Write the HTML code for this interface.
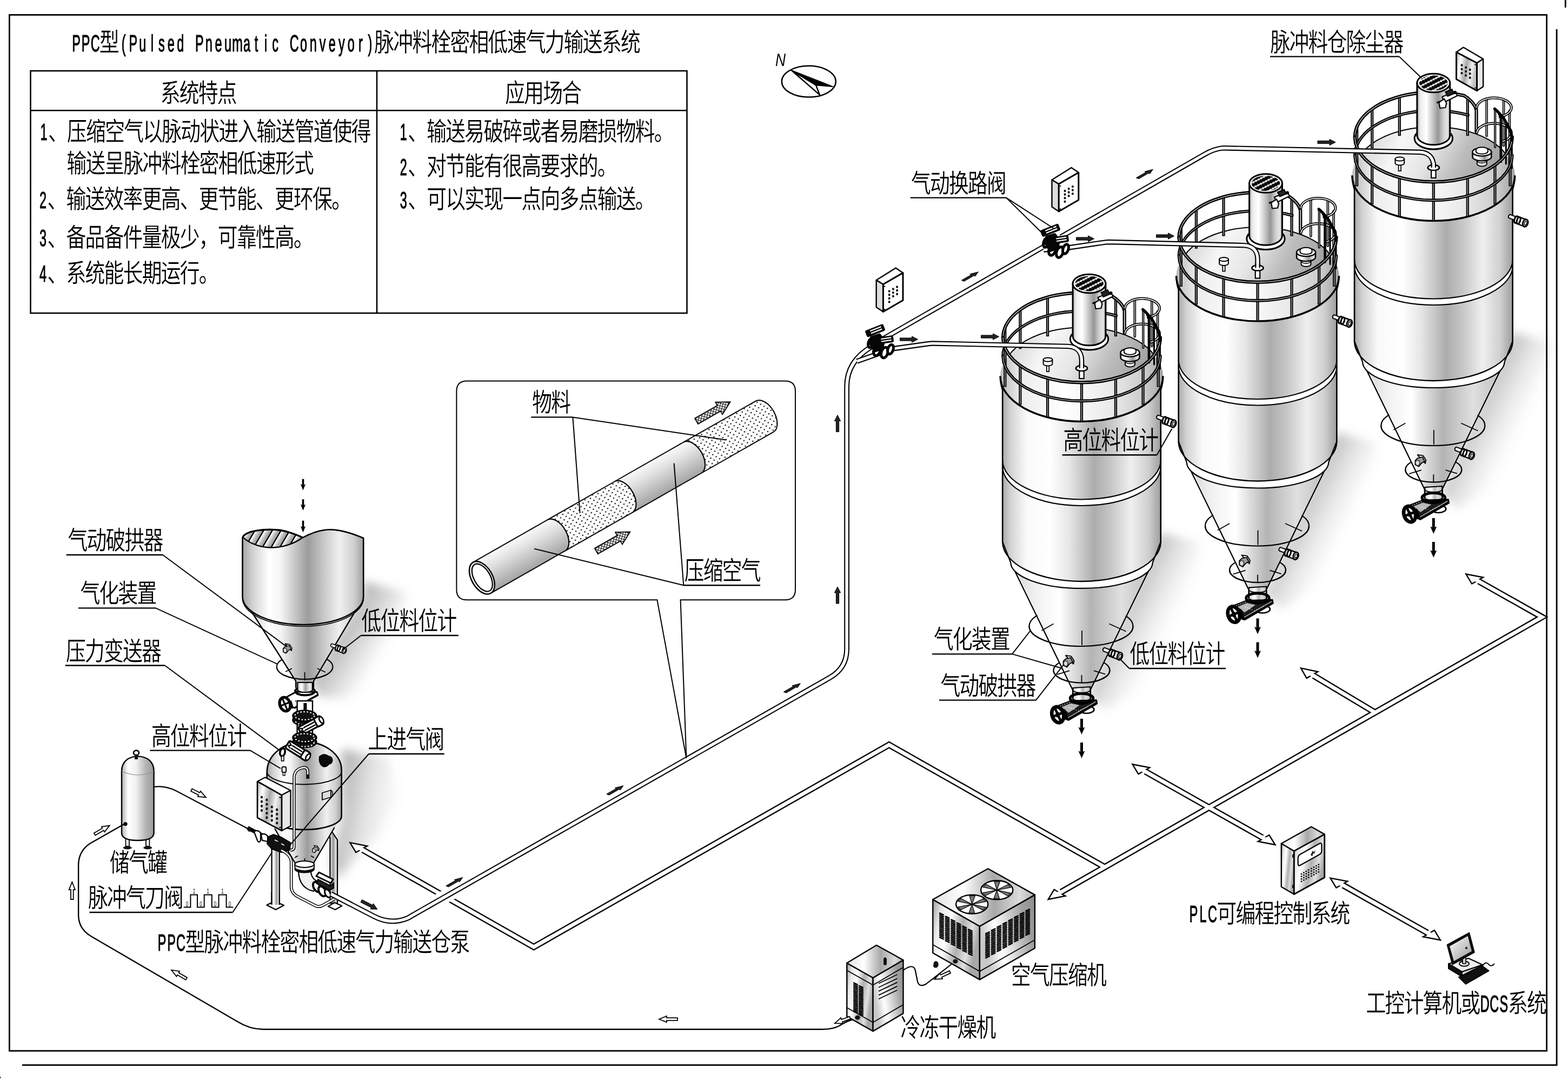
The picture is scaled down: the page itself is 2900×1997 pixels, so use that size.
<!DOCTYPE html><html lang="zh"><head><meta charset="utf-8"><title>PPC型脉冲料栓密相低速气力输送系统</title><style>html,body{margin:0;padding:0;background:#fff}svg{display:block;will-change:transform}text{font-family:'Liberation Sans','Noto Sans CJK SC',sans-serif;text-rendering:geometricPrecision}</style></head><body><svg width="2900" height="1997" viewBox="0 0 2900 1997"><defs><linearGradient id="gBody" x1="0" x2="1" y1="0" y2="0"><stop offset="0" stop-color="#aaaaaa"/><stop offset="0.05" stop-color="#d2d2d2"/><stop offset="0.15" stop-color="#fafafa"/><stop offset="0.3" stop-color="#ffffff"/><stop offset="0.42" stop-color="#e6e6e6"/><stop offset="0.58" stop-color="#acacac"/><stop offset="0.69" stop-color="#c8c8c8"/><stop offset="0.81" stop-color="#efefef"/><stop offset="0.92" stop-color="#d0d0d0"/><stop offset="1" stop-color="#9e9e9e"/></linearGradient>
<linearGradient id="gCone" x1="0" x2="1" y1="0" y2="0"><stop offset="0" stop-color="#c4c4c4"/><stop offset="0.2" stop-color="#f0f0f0"/><stop offset="0.36" stop-color="#ffffff"/><stop offset="0.56" stop-color="#b4b4b4"/><stop offset="0.75" stop-color="#e0e0e0"/><stop offset="1" stop-color="#b0b0b0"/></linearGradient>
<linearGradient id="gRoof" x1="0" x2="1" y1="0.35" y2="0.65"><stop offset="0" stop-color="#d4d4d4"/><stop offset="0.22" stop-color="#f6f6f6"/><stop offset="0.42" stop-color="#e6e6e6"/><stop offset="0.62" stop-color="#bdbdbd"/><stop offset="0.85" stop-color="#a2a2a2"/><stop offset="1" stop-color="#b4b4b4"/></linearGradient>
<linearGradient id="gRim" x1="0" x2="1" y1="0" y2="0"><stop offset="0" stop-color="#b8b8b8"/><stop offset="0.12" stop-color="#ececec"/><stop offset="0.4" stop-color="#ffffff"/><stop offset="0.7" stop-color="#e8e8e8"/><stop offset="0.9" stop-color="#c8c8c8"/><stop offset="1" stop-color="#a0a0a0"/></linearGradient>
<linearGradient id="gFil" x1="0" x2="1" y1="0" y2="0"><stop offset="0" stop-color="#b4b4b4"/><stop offset="0.1" stop-color="#ececec"/><stop offset="0.28" stop-color="#ffffff"/><stop offset="0.46" stop-color="#cccccc"/><stop offset="0.64" stop-color="#969696"/><stop offset="0.8" stop-color="#cfcfcf"/><stop offset="0.92" stop-color="#e6e6e6"/><stop offset="1" stop-color="#a8a8a8"/></linearGradient>
<filter id="blur8" x="-50%" y="-50%" width="200%" height="200%"><feGaussianBlur stdDeviation="9"/></filter>
<filter id="blur14" x="-50%" y="-50%" width="200%" height="200%"><feGaussianBlur stdDeviation="14"/></filter>
<pattern id="pFilt" width="5.4" height="9" patternUnits="userSpaceOnUse" patternTransform="rotate(-27) translate(1,2.6)"><rect width="5.4" height="9" fill="#fff"/><rect x="0" y="0.7" width="5.4" height="7.2" rx="2.5" fill="#050505"/></pattern>
<linearGradient id="sg1" gradientUnits="userSpaceOnUse" x1="2072.5" y1="1135" x2="2155.5" y2="1176"><stop offset="0" stop-color="#808080" stop-opacity="0.5"/><stop offset="0.5" stop-color="#808080" stop-opacity="0.2"/><stop offset="1" stop-color="#808080" stop-opacity="0"/></linearGradient>
<filter id="bl9" x="-50%" y="-50%" width="200%" height="200%"><feGaussianBlur stdDeviation="9"/></filter>
<clipPath id="cr1"><ellipse cx="2000.5" cy="624.4" rx="145.8" ry="83"/></clipPath>
<linearGradient id="sg2" gradientUnits="userSpaceOnUse" x1="2398" y1="949.5" x2="2481" y2="990.5"><stop offset="0" stop-color="#808080" stop-opacity="0.5"/><stop offset="0.5" stop-color="#808080" stop-opacity="0.2"/><stop offset="1" stop-color="#808080" stop-opacity="0"/></linearGradient>
<clipPath id="cr2"><ellipse cx="2326" cy="438.9" rx="145.8" ry="83"/></clipPath>
<linearGradient id="sg3" gradientUnits="userSpaceOnUse" x1="2723.3" y1="764" x2="2806.3" y2="805"><stop offset="0" stop-color="#808080" stop-opacity="0.5"/><stop offset="0.5" stop-color="#808080" stop-opacity="0.2"/><stop offset="1" stop-color="#808080" stop-opacity="0"/></linearGradient>
<clipPath id="cr3"><ellipse cx="2651.3" cy="253.4" rx="145.8" ry="83"/></clipPath>
<linearGradient id="gHop" x1="0" x2="1" y1="0" y2="0"><stop offset="0" stop-color="#a4a4a4"/><stop offset="0.08" stop-color="#d0d0d0"/><stop offset="0.22" stop-color="#ffffff"/><stop offset="0.32" stop-color="#f4f4f4"/><stop offset="0.54" stop-color="#9c9c9c"/><stop offset="0.66" stop-color="#c4c4c4"/><stop offset="0.8" stop-color="#f0f0f0"/><stop offset="0.92" stop-color="#d0d0d0"/><stop offset="1" stop-color="#a0a0a0"/></linearGradient>
<linearGradient id="gHatch" x1="0" y1="0" x2="12" y2="7" gradientUnits="userSpaceOnUse" spreadMethod="repeat"><stop offset="0" stop-color="#fff"/><stop offset="0.45" stop-color="#bbb"/><stop offset="0.8" stop-color="#999"/><stop offset="0.82" stop-color="#000"/><stop offset="0.95" stop-color="#000"/><stop offset="1" stop-color="#fff"/></linearGradient>
<linearGradient id="gBox" x1="0" x2="1" y1="0" y2="0.3"><stop offset="0" stop-color="#b0b0b0"/><stop offset="0.25" stop-color="#ffffff"/><stop offset="0.55" stop-color="#a8a8a8"/><stop offset="0.8" stop-color="#f0f0f0"/><stop offset="1" stop-color="#c0c0c0"/></linearGradient>
<linearGradient id="sg4" gradientUnits="userSpaceOnUse" x1="620" y1="1175" x2="700" y2="1222"><stop offset="0" stop-color="#808080" stop-opacity="0.6"/><stop offset="0.5" stop-color="#808080" stop-opacity="0.3"/><stop offset="1" stop-color="#808080" stop-opacity="0"/></linearGradient>
<linearGradient id="sg5" gradientUnits="userSpaceOnUse" x1="622" y1="1480" x2="740" y2="1500"><stop offset="0" stop-color="#808080" stop-opacity="0.6"/><stop offset="0.5" stop-color="#808080" stop-opacity="0.2"/><stop offset="1" stop-color="#808080" stop-opacity="0"/></linearGradient>
<linearGradient id="gTank" x1="0" x2="1" y1="0" y2="0"><stop offset="0" stop-color="#b0b0b0"/><stop offset="0.2" stop-color="#ffffff"/><stop offset="0.45" stop-color="#f0f0f0"/><stop offset="0.75" stop-color="#b4b4b4"/><stop offset="1" stop-color="#9a9a9a"/></linearGradient>
<linearGradient id="gFaceL" x1="0" x2="1" y1="0" y2="0.4"><stop offset="0" stop-color="#9a9a9a"/><stop offset="0.2" stop-color="#e8e8e8"/><stop offset="0.4" stop-color="#ffffff"/><stop offset="0.65" stop-color="#b0b0b0"/><stop offset="0.85" stop-color="#e0e0e0"/><stop offset="1" stop-color="#a8a8a8"/></linearGradient>
<linearGradient id="gFaceR" x1="0" x2="1" y1="0.4" y2="0"><stop offset="0" stop-color="#c8c8c8"/><stop offset="0.25" stop-color="#ffffff"/><stop offset="0.5" stop-color="#d0d0d0"/><stop offset="0.75" stop-color="#a0a0a0"/><stop offset="1" stop-color="#8c8c8c"/></linearGradient>
<linearGradient id="gFaceT" x1="0" x2="1" y1="0.5" y2="0.5"><stop offset="0" stop-color="#e0e0e0"/><stop offset="0.3" stop-color="#ffffff"/><stop offset="0.6" stop-color="#a8a8a8"/><stop offset="0.85" stop-color="#dcdcdc"/><stop offset="1" stop-color="#b0b0b0"/></linearGradient>
<linearGradient id="gScr" x1="0" x2="1" y1="0" y2="1"><stop offset="0" stop-color="#fff"/><stop offset="0.5" stop-color="#ccc"/><stop offset="1" stop-color="#999"/></linearGradient>
<pattern id="pDots" width="10.4" height="10.4" patternUnits="userSpaceOnUse" patternTransform="rotate(15)"><rect width="10.4" height="10.4" fill="#fff"/><circle cx="2.6" cy="2.6" r="1.25" fill="#000"/><circle cx="7.8" cy="7.8" r="1.25" fill="#000"/></pattern>
<linearGradient id="gAir" x1="0" x2="0" y1="0" y2="1"><stop offset="0" stop-color="#fafafa"/><stop offset="0.35" stop-color="#e0e0e0"/><stop offset="1" stop-color="#a4a4a4"/></linearGradient>
<pattern id="pX" width="6.4" height="6.4" patternUnits="userSpaceOnUse"><rect width="6.4" height="6.4" fill="#fff"/><path d="M0,0 L6.4,6.4 M6.4,0 L0,6.4" stroke="#000" stroke-width="1.1"/></pattern></defs><rect width="2900" height="1997" fill="#fff"/><polygon points="2146.5,985 2222.5,1005 2200.5,1100 2115.5,1265 2045.5,1312 2012.5,1285" fill="url(#sg1)" filter="url(#bl9)"/>
<polygon points="2472,799.5 2548,819.5 2526,914.5 2441,1079.5 2371,1126.5 2338,1099.5" fill="url(#sg2)" filter="url(#bl9)"/>
<polygon points="2797.3,614 2873.3,634 2851.3,729 2766.3,894 2696.3,941 2663.3,914" fill="url(#sg3)" filter="url(#bl9)"/>
<polygon points="672,1075 750,1095 740,1180 695,1250 640,1292 590,1288 575,1260 672,1100" fill="url(#sg4)" filter="url(#bl9)"/>
<polygon points="632,1385 720,1400 735,1480 700,1545 655,1590 628,1625 612,1600 632,1510" fill="url(#sg5)" filter="url(#bl9)"/><rect x="17.4" y="27.5" width="2843.2" height="1915.6" fill="none" stroke="#000" stroke-width="2.8"/>
<path d="M2879.1,54 L2879.1,1969.4 L41,1969.4" stroke="#000" stroke-width="2.8" fill="none" />
<line x1="2895.3" y1="0" x2="2895.3" y2="14" stroke="#000" stroke-width="2.8" stroke-linecap="butt"/>
<line x1="0" y1="1992.3" x2="1.2" y2="1992.3" stroke="#000" stroke-width="3" stroke-linecap="butt"/>
<text transform="translate(132.3,94.5) scale(0.5400,1)" font-size="43.4" font-weight="400" fill="#000" stroke="#000" stroke-width="1.1" text-anchor="middle" x="16.2 48.7 81.1">PPC</text><text transform="translate(184,94.8) scale(0.7650,1)" font-size="48" font-weight="350" letter-spacing="-2.183" fill="#000">型</text><text transform="translate(219.9,94.5) scale(0.5400,1)" font-size="43.4" font-weight="400" fill="#000" stroke="#000" stroke-width="1.1" text-anchor="middle" x="16.2 48.7 81.1 113.6 146 178.5 210.9 243.4 275.9 308.3 340.8 373.2 405.7 438.1 470.6 503 535.5 567.9 600.4 632.8 665.3 697.8 730.2 762.7 795.1 827.6 860">(Pulsed Pneumatic Conveyor)</text><text transform="translate(692.3,94.8) scale(0.7650,1)" font-size="48" font-weight="350" letter-spacing="-2.183" fill="#000">脉冲料栓密相低速气力输送系统</text>
<rect x="56.5" y="131" width="1214" height="448" fill="none" stroke="#000" stroke-width="2.6"/>
<line x1="697" y1="131" x2="697" y2="579" stroke="#000" stroke-width="2.6" stroke-linecap="butt"/>
<line x1="56.5" y1="204.3" x2="1270.5" y2="204.3" stroke="#000" stroke-width="2.6" stroke-linecap="butt"/>
<text transform="translate(296.7,189.3) scale(0.7650,1)" font-size="48" font-weight="350" letter-spacing="-2.183" fill="#000">系统特点</text>
<text transform="translate(934.2,189.3) scale(0.7650,1)" font-size="48" font-weight="350" letter-spacing="-2.183" fill="#000">应用场合</text>
<text transform="translate(72.3,259.3) scale(0.5400,1)" font-size="43.4" font-weight="400" fill="#000" stroke="#000" stroke-width="1.1" text-anchor="middle" x="16.2">1</text><text transform="translate(89,259.6) scale(0.7650,1)" font-size="48" font-weight="350" letter-spacing="-2.183" fill="#000">、压缩空气以脉动状进入输送管道使得</text>
<text transform="translate(123.4,319.3) scale(0.7650,1)" font-size="48" font-weight="350" letter-spacing="-2.183" fill="#000">输送呈脉冲料栓密相低速形式</text>
<text transform="translate(70.7,385) scale(0.5400,1)" font-size="43.4" font-weight="400" fill="#000" stroke="#000" stroke-width="1.1" text-anchor="middle" x="16.2">2</text><text transform="translate(87.4,385.3) scale(0.7650,1)" font-size="48" font-weight="350" letter-spacing="-2.183" fill="#000">、输送效率更高、更节能、更环保。</text>
<text transform="translate(70.7,455.4) scale(0.5400,1)" font-size="43.4" font-weight="400" fill="#000" stroke="#000" stroke-width="1.1" text-anchor="middle" x="16.2">3</text><text transform="translate(87.4,455.7) scale(0.7650,1)" font-size="48" font-weight="350" letter-spacing="-2.183" fill="#000">、备品备件量极少，可靠性高。</text>
<text transform="translate(70.7,521.4) scale(0.5400,1)" font-size="43.4" font-weight="400" fill="#000" stroke="#000" stroke-width="1.1" text-anchor="middle" x="16.2">4</text><text transform="translate(87.4,521.7) scale(0.7650,1)" font-size="48" font-weight="350" letter-spacing="-2.183" fill="#000">、系统能长期运行。</text>
<text transform="translate(737.5,259.3) scale(0.5400,1)" font-size="43.4" font-weight="400" fill="#000" stroke="#000" stroke-width="1.1" text-anchor="middle" x="16.2">1</text><text transform="translate(754.2,259.6) scale(0.7650,1)" font-size="48" font-weight="350" letter-spacing="-2.183" fill="#000">、输送易破碎或者易磨损物料。</text>
<text transform="translate(737.5,323.9) scale(0.5400,1)" font-size="43.4" font-weight="400" fill="#000" stroke="#000" stroke-width="1.1" text-anchor="middle" x="16.2">2</text><text transform="translate(754.2,324.2) scale(0.7650,1)" font-size="48" font-weight="350" letter-spacing="-2.183" fill="#000">、对节能有很高要求的。</text>
<text transform="translate(737.5,385) scale(0.5400,1)" font-size="43.4" font-weight="400" fill="#000" stroke="#000" stroke-width="1.1" text-anchor="middle" x="16.2">3</text><text transform="translate(754.2,385.3) scale(0.7650,1)" font-size="48" font-weight="350" letter-spacing="-2.183" fill="#000">、可以实现一点向多点输送。</text>
<ellipse cx="1495.8" cy="150.7" rx="50" ry="28.9" fill="none" stroke="#000" stroke-width="2.5" />
<polygon points="1463.8,130 1540.6,160.2 1509.1,157.6" fill="#000" stroke="#000" stroke-width="1.6" stroke-linejoin="round" />
<polygon points="1463.8,130 1509.1,157.6 1516,175.3" fill="#fff" stroke="#000" stroke-width="2.4" stroke-linejoin="round" />
<text x="1434" y="121.5" font-size="33" font-style="italic" transform="translate(1434,121.5) scale(0.8,1) translate(-1434,-121.5)">N</text>
<path d="M671.3,1571.7 L987.2,1751 L1644.3,1377.2 L2042.6,1603 M1962.6,1649.4 L2852,1140.9 L2735.2,1075 M2543,1317.3 L2429.6,1249.5 M2118.5,1426.8 L2334.4,1548.5 M2484.4,1637.1 L2639.9,1724.7" fill="none" stroke="#000" stroke-width="11.6" stroke-linejoin="miter" stroke-miterlimit="8"/>
<polygon points="673.3,1567.5 679.1,1564.2 647.4,1558.1 658.3,1576.2 664.1,1572.8" fill="#fff" stroke="#000" stroke-width="2.4" stroke-linejoin="miter"/>
<polygon points="1964.6,1653.5 1970.4,1656.8 1938.7,1663 1949.6,1644.8 1955.4,1648.2" fill="#fff" stroke="#000" stroke-width="2.4" stroke-linejoin="miter"/>
<polygon points="2737.2,1070.9 2743,1067.5 2711.3,1061.5 2722.2,1079.5 2728,1076.2" fill="#fff" stroke="#000" stroke-width="2.4" stroke-linejoin="miter"/>
<polygon points="2431.6,1245.3 2437.4,1242 2406,1235.4 2416.6,1254 2422.4,1250.6" fill="#fff" stroke="#000" stroke-width="2.4" stroke-linejoin="miter"/>
<polygon points="2120.4,1422.7 2126.2,1419.3 2094.5,1413.3 2105.5,1431.3 2111.3,1428" fill="#fff" stroke="#000" stroke-width="2.4" stroke-linejoin="miter"/>
<polygon points="2341.6,1547.3 2347.4,1544 2358.4,1562 2326.7,1556 2332.5,1552.6" fill="#fff" stroke="#000" stroke-width="2.4" stroke-linejoin="miter"/>
<polygon points="2486.3,1633 2492.1,1629.6 2460.4,1623.6 2471.4,1641.6 2477.2,1638.3" fill="#fff" stroke="#000" stroke-width="2.4" stroke-linejoin="miter"/>
<polygon points="2647.1,1723.5 2652.9,1720.2 2663.9,1738.2 2632.2,1732.2 2638,1728.8" fill="#fff" stroke="#000" stroke-width="2.4" stroke-linejoin="miter"/>
<path d="M671.3,1571.7 L987.2,1751 L1644.3,1377.2 L2042.6,1603 M1962.6,1649.4 L2852,1140.9 L2735.2,1075 M2543,1317.3 L2429.6,1249.5 M2118.5,1426.8 L2334.4,1548.5 M2484.4,1637.1 L2639.9,1724.7" fill="none" stroke="#fff" stroke-width="6.8" stroke-linejoin="miter" stroke-miterlimit="8"/>
<line x1="673.1" y1="1572.7" x2="665.2" y2="1568.2" stroke="#fff" stroke-width="6.8"/>
<line x1="1964.3" y1="1648.4" x2="1956.5" y2="1652.8" stroke="#fff" stroke-width="6.8"/>
<line x1="2737" y1="1076" x2="2729.2" y2="1071.6" stroke="#fff" stroke-width="6.8"/>
<line x1="2431.3" y1="1250.5" x2="2423.6" y2="1245.9" stroke="#fff" stroke-width="6.8"/>
<line x1="2120.2" y1="1427.8" x2="2112.4" y2="1423.4" stroke="#fff" stroke-width="6.8"/>
<line x1="2332.7" y1="1547.5" x2="2340.5" y2="1551.9" stroke="#fff" stroke-width="6.8"/>
<line x1="2486.1" y1="1638.1" x2="2478.3" y2="1633.7" stroke="#fff" stroke-width="6.8"/>
<line x1="2638.2" y1="1723.7" x2="2646" y2="1728.1" stroke="#fff" stroke-width="6.8"/>
<ellipse cx="1999.5" cy="1158" rx="96" ry="37" fill="none" stroke="#000" stroke-width="2.2" />
<ellipse cx="2000.5" cy="1239.6" rx="52" ry="23" fill="none" stroke="#000" stroke-width="2.2" />
<polygon points="1854.2,1002 1984,1276 1984,1292 2017,1292 2017,1275 2146.8,1002" fill="url(#gCone)" stroke="none"/>
<path d="M1984.5,1272 L1984.5,1293 A16,5 0 0 0 2016.5,1293 L2016.5,1270 Z" fill="url(#gCone)" stroke="#000" stroke-width="2"/>
<path d="M1984.5,1276 A16,5 0 0 0 2016.5,1276" fill="none" stroke="#000" stroke-width="1.8"/>
<path d="M1869.2,1040 L1984,1276 L1984,1293 M2131.8,1040 L2017,1275 L2017,1293" stroke="#000" stroke-width="2.2" fill="none" />
<path d="M2095.5,1158 A96,37 0 0 1 1903.5,1158" stroke="#000" stroke-width="2.2" fill="none" />
<path d="M2052.5,1239.6 A52,23 0 0 1 1948.5,1239.6" stroke="#000" stroke-width="2.2" fill="none" />
<line x1="1948.5" y1="1153.5" x2="1926.5" y2="1166" stroke="#000" stroke-width="1.8" stroke-linecap="butt"/>
<line x1="2001" y1="1166" x2="2001" y2="1193" stroke="#000" stroke-width="1.8" stroke-linecap="butt"/>
<line x1="2051.5" y1="1153.5" x2="2082.5" y2="1167.5" stroke="#000" stroke-width="1.8" stroke-linecap="butt"/>
<line x1="1978.1" y1="1240.2" x2="1955.2" y2="1247.1" stroke="#000" stroke-width="1.8" stroke-linecap="butt"/>
<line x1="2000.5" y1="1248.2" x2="2000.5" y2="1262.5" stroke="#000" stroke-width="1.8" stroke-linecap="butt"/>
<line x1="2022.9" y1="1240.2" x2="2044.2" y2="1246.6" stroke="#000" stroke-width="1.8" stroke-linecap="butt"/>
<path d="M1854.2,699.4 L1854.2,1002 A146.3,73 0 0 0 2146.8,1002 L2146.8,699.4 Z" fill="url(#gBody)" stroke="none"/>
<path d="M1854.2,1002 A146.3,73 0 0 0 2146.8,1002 L2131.8,1040 A131.3,48 0 0 1 1869.2,1040 Z" fill="#fff" stroke="none"/>
<path d="M1854.2,851 A146.3,72.5 0 0 0 2146.8,851 L2146.8,862.5 A146.3,72.5 0 0 1 1854.2,862.5 Z" fill="#fff" stroke="none"/>
<path d="M1854.2,705.4 L1854.2,1004 M2146.8,705.4 L2146.8,1004" stroke="#000" stroke-width="2.6" fill="none" />
<path d="M1854.2,851 A146.3,72.5 0 0 0 2146.8,851" stroke="#000" stroke-width="2.2" fill="none" />
<path d="M1854.2,862.5 A146.3,72.5 0 0 0 2146.8,862.5" stroke="#000" stroke-width="2.2" fill="none" />
<path d="M1854.2,1002 A146.3,73 0 0 0 2146.8,1002" stroke="#000" stroke-width="2.4" fill="none" />
<path d="M1869.2,1040 A131.3,48 0 0 0 2131.8,1040" stroke="#000" stroke-width="2.2" fill="none" />
<path d="M1854.2,1002 L1869.2,1040 M2146.8,1002 L2131.8,1040" stroke="#000" stroke-width="2.2" fill="none" />
<ellipse cx="2000.5" cy="695.4" rx="150.5" ry="84" fill="url(#gRim)" stroke="none"/>
<path d="M1850,695.4 A150.5,84 0 0 0 2151,695.4" stroke="#000" stroke-width="3.4" fill="none" />
<path d="M1850,695.4 Q1850,709.4 1854.2,721.4 M2151,695.4 Q2151,709.4 2146.8,721.4" stroke="#000" stroke-width="2.4" fill="none" />
<g clip-path="url(#cr1)"><ellipse cx="2000.5" cy="688.4" rx="145.3" ry="83" fill="url(#gRoof)" stroke="#000" stroke-width="2"/></g>
<ellipse cx="2325" cy="972.5" rx="96" ry="37" fill="none" stroke="#000" stroke-width="2.2" />
<ellipse cx="2326" cy="1054.1" rx="52" ry="23" fill="none" stroke="#000" stroke-width="2.2" />
<polygon points="2179.7,816.5 2309.5,1090.5 2309.5,1106.5 2342.5,1106.5 2342.5,1089.5 2472.3,816.5" fill="url(#gCone)" stroke="none"/>
<path d="M2310,1086.5 L2310,1107.5 A16,5 0 0 0 2342,1107.5 L2342,1084.5 Z" fill="url(#gCone)" stroke="#000" stroke-width="2"/>
<path d="M2310,1090.5 A16,5 0 0 0 2342,1090.5" fill="none" stroke="#000" stroke-width="1.8"/>
<path d="M2194.7,854.5 L2309.5,1090.5 L2309.5,1107.5 M2457.3,854.5 L2342.5,1089.5 L2342.5,1107.5" stroke="#000" stroke-width="2.2" fill="none" />
<path d="M2421,972.5 A96,37 0 0 1 2229,972.5" stroke="#000" stroke-width="2.2" fill="none" />
<path d="M2378,1054.1 A52,23 0 0 1 2274,1054.1" stroke="#000" stroke-width="2.2" fill="none" />
<line x1="2274" y1="968" x2="2252" y2="980.5" stroke="#000" stroke-width="1.8" stroke-linecap="butt"/>
<line x1="2326.5" y1="980.5" x2="2326.5" y2="1007.5" stroke="#000" stroke-width="1.8" stroke-linecap="butt"/>
<line x1="2377" y1="968" x2="2408" y2="982" stroke="#000" stroke-width="1.8" stroke-linecap="butt"/>
<line x1="2303.6" y1="1054.7" x2="2280.7" y2="1061.6" stroke="#000" stroke-width="1.8" stroke-linecap="butt"/>
<line x1="2326" y1="1062.7" x2="2326" y2="1077" stroke="#000" stroke-width="1.8" stroke-linecap="butt"/>
<line x1="2348.4" y1="1054.7" x2="2369.7" y2="1061.1" stroke="#000" stroke-width="1.8" stroke-linecap="butt"/>
<path d="M2179.7,513.9 L2179.7,816.5 A146.3,73 0 0 0 2472.3,816.5 L2472.3,513.9 Z" fill="url(#gBody)" stroke="none"/>
<path d="M2179.7,816.5 A146.3,73 0 0 0 2472.3,816.5 L2457.3,854.5 A131.3,48 0 0 1 2194.7,854.5 Z" fill="#fff" stroke="none"/>
<path d="M2179.7,665.5 A146.3,72.5 0 0 0 2472.3,665.5 L2472.3,677 A146.3,72.5 0 0 1 2179.7,677 Z" fill="#fff" stroke="none"/>
<path d="M2179.7,519.9 L2179.7,818.5 M2472.3,519.9 L2472.3,818.5" stroke="#000" stroke-width="2.6" fill="none" />
<path d="M2179.7,665.5 A146.3,72.5 0 0 0 2472.3,665.5" stroke="#000" stroke-width="2.2" fill="none" />
<path d="M2179.7,677 A146.3,72.5 0 0 0 2472.3,677" stroke="#000" stroke-width="2.2" fill="none" />
<path d="M2179.7,816.5 A146.3,73 0 0 0 2472.3,816.5" stroke="#000" stroke-width="2.4" fill="none" />
<path d="M2194.7,854.5 A131.3,48 0 0 0 2457.3,854.5" stroke="#000" stroke-width="2.2" fill="none" />
<path d="M2179.7,816.5 L2194.7,854.5 M2472.3,816.5 L2457.3,854.5" stroke="#000" stroke-width="2.2" fill="none" />
<ellipse cx="2326" cy="509.9" rx="150.5" ry="84" fill="url(#gRim)" stroke="none"/>
<path d="M2175.5,509.9 A150.5,84 0 0 0 2476.5,509.9" stroke="#000" stroke-width="3.4" fill="none" />
<path d="M2175.5,509.9 Q2175.5,523.9 2179.7,535.9 M2476.5,509.9 Q2476.5,523.9 2472.3,535.9" stroke="#000" stroke-width="2.4" fill="none" />
<g clip-path="url(#cr2)"><ellipse cx="2326" cy="502.9" rx="145.3" ry="83" fill="url(#gRoof)" stroke="#000" stroke-width="2"/></g>
<ellipse cx="2650.3" cy="787" rx="96" ry="37" fill="none" stroke="#000" stroke-width="2.2" />
<ellipse cx="2651.3" cy="868.6" rx="52" ry="23" fill="none" stroke="#000" stroke-width="2.2" />
<polygon points="2505,631 2634.8,905 2634.8,921 2667.8,921 2667.8,904 2797.6,631" fill="url(#gCone)" stroke="none"/>
<path d="M2635.3,901 L2635.3,922 A16,5 0 0 0 2667.3,922 L2667.3,899 Z" fill="url(#gCone)" stroke="#000" stroke-width="2"/>
<path d="M2635.3,905 A16,5 0 0 0 2667.3,905" fill="none" stroke="#000" stroke-width="1.8"/>
<path d="M2520,669 L2634.8,905 L2634.8,922 M2782.6,669 L2667.8,904 L2667.8,922" stroke="#000" stroke-width="2.2" fill="none" />
<path d="M2746.3,787 A96,37 0 0 1 2554.3,787" stroke="#000" stroke-width="2.2" fill="none" />
<path d="M2703.3,868.6 A52,23 0 0 1 2599.3,868.6" stroke="#000" stroke-width="2.2" fill="none" />
<line x1="2599.3" y1="782.5" x2="2577.3" y2="795" stroke="#000" stroke-width="1.8" stroke-linecap="butt"/>
<line x1="2651.8" y1="795" x2="2651.8" y2="822" stroke="#000" stroke-width="1.8" stroke-linecap="butt"/>
<line x1="2702.3" y1="782.5" x2="2733.3" y2="796.5" stroke="#000" stroke-width="1.8" stroke-linecap="butt"/>
<line x1="2628.9" y1="869.2" x2="2606" y2="876.1" stroke="#000" stroke-width="1.8" stroke-linecap="butt"/>
<line x1="2651.3" y1="877.2" x2="2651.3" y2="891.5" stroke="#000" stroke-width="1.8" stroke-linecap="butt"/>
<line x1="2673.7" y1="869.2" x2="2695" y2="875.6" stroke="#000" stroke-width="1.8" stroke-linecap="butt"/>
<path d="M2505,328.4 L2505,631 A146.3,73 0 0 0 2797.6,631 L2797.6,328.4 Z" fill="url(#gBody)" stroke="none"/>
<path d="M2505,631 A146.3,73 0 0 0 2797.6,631 L2782.6,669 A131.3,48 0 0 1 2520,669 Z" fill="#fff" stroke="none"/>
<path d="M2505,480 A146.3,72.5 0 0 0 2797.6,480 L2797.6,491.5 A146.3,72.5 0 0 1 2505,491.5 Z" fill="#fff" stroke="none"/>
<path d="M2505,334.4 L2505,633 M2797.6,334.4 L2797.6,633" stroke="#000" stroke-width="2.6" fill="none" />
<path d="M2505,480 A146.3,72.5 0 0 0 2797.6,480" stroke="#000" stroke-width="2.2" fill="none" />
<path d="M2505,491.5 A146.3,72.5 0 0 0 2797.6,491.5" stroke="#000" stroke-width="2.2" fill="none" />
<path d="M2505,631 A146.3,73 0 0 0 2797.6,631" stroke="#000" stroke-width="2.4" fill="none" />
<path d="M2520,669 A131.3,48 0 0 0 2782.6,669" stroke="#000" stroke-width="2.2" fill="none" />
<path d="M2505,631 L2520,669 M2797.6,631 L2782.6,669" stroke="#000" stroke-width="2.2" fill="none" />
<ellipse cx="2651.3" cy="324.4" rx="150.5" ry="84" fill="url(#gRim)" stroke="none"/>
<path d="M2500.8,324.4 A150.5,84 0 0 0 2801.8,324.4" stroke="#000" stroke-width="3.4" fill="none" />
<path d="M2500.8,324.4 Q2500.8,338.4 2505,350.4 M2801.8,324.4 Q2801.8,338.4 2797.6,350.4" stroke="#000" stroke-width="2.4" fill="none" />
<g clip-path="url(#cr3)"><ellipse cx="2651.3" cy="317.4" rx="145.3" ry="83" fill="url(#gRoof)" stroke="#000" stroke-width="2"/></g>
<path d="M803,1669.5 L843,1646.7" stroke="#fff" stroke-width="25" fill="none"/>
<path d="M612,1653 L692,1694.5 Q722,1710 752,1698.5 Q756,1697 760,1694.2 L1535,1252.8 Q1566.1,1235.1 1566.1,1200 L1566.1,715 Q1566.1,668 1612,641" stroke="#000" stroke-width="9.8" fill="none" stroke-linejoin="round"/>
<path d="M612,1653 L692,1694.5 Q722,1710 752,1698.5 Q756,1697 760,1694.2 L1535,1252.8 Q1566.1,1235.1 1566.1,1200 L1566.1,715 Q1566.1,668 1612,641" stroke="#fff" stroke-width="5.6" fill="none" stroke-linejoin="round"/>
<path d="M1627,630 L1948,446" stroke="#000" stroke-width="9.4" fill="none" stroke-linejoin="round"/>
<path d="M1627,630 L1948,446" stroke="#fff" stroke-width="5.2" fill="none" stroke-linejoin="round"/>
<line x1="2714.3" y1="178.6" x2="2714.3" y2="251.1" stroke="#000" stroke-width="5.2"/><line x1="2714.3" y1="179.6" x2="2714.3" y2="249.6" stroke="#b0b0b0" stroke-width="1.3"/>
<line x1="2651.3" y1="170.4" x2="2651.3" y2="242.9" stroke="#000" stroke-width="5.2"/><line x1="2651.3" y1="171.4" x2="2651.3" y2="241.4" stroke="#b0b0b0" stroke-width="1.3"/>
<line x1="2588.3" y1="178.6" x2="2588.3" y2="251.1" stroke="#000" stroke-width="5.2"/><line x1="2588.3" y1="179.6" x2="2588.3" y2="249.6" stroke="#b0b0b0" stroke-width="1.3"/>
<line x1="2537.7" y1="201.7" x2="2537.7" y2="274.2" stroke="#000" stroke-width="5.2"/><line x1="2537.7" y1="202.7" x2="2537.7" y2="272.7" stroke="#b0b0b0" stroke-width="1.3"/>
<line x1="2509.6" y1="234.9" x2="2509.6" y2="307.4" stroke="#000" stroke-width="5.2"/><line x1="2509.6" y1="235.9" x2="2509.6" y2="305.9" stroke="#b0b0b0" stroke-width="1.3"/>
<path d="M2505.8,287.4 L2506.3,280.4 L2507.9,273.5 L2510.4,266.6 L2514,259.9 L2518.6,253.4 L2524,247.2 L2530.4,241.2 L2537.7,235.5 L2545.8,230.3 L2554.6,225.4 L2564.1,221 L2574.2,217 L2584.9,213.6 L2596,210.6 L2607.5,208.2 L2619.4,206.4 L2631.5,205.2 L2643.7,204.5 L2656,204.4 L2668.2,205 L2680.3,206.1 L2692.2,207.7 L2703.8,210 L2715.1,212.8" fill="none" stroke="#000" stroke-width="5.6" stroke-linecap="round"/><path d="M2505.8,287.4 L2506.3,280.4 L2507.9,273.5 L2510.4,266.6 L2514,259.9 L2518.6,253.4 L2524,247.2 L2530.4,241.2 L2537.7,235.5 L2545.8,230.3 L2554.6,225.4 L2564.1,221 L2574.2,217 L2584.9,213.6 L2596,210.6 L2607.5,208.2 L2619.4,206.4 L2631.5,205.2 L2643.7,204.5 L2656,204.4 L2668.2,205 L2680.3,206.1 L2692.2,207.7 L2703.8,210 L2715.1,212.8" fill="none" stroke="#e8e8e8" stroke-width="1" stroke-linecap="round"/>
<path d="M2505.8,253.4 L2506.3,246.6 L2507.8,239.8 L2510.2,233.1 L2513.6,226.6 L2517.9,220.2 L2523.1,214.1 L2529.2,208.2 L2536.1,202.7 L2543.8,197.5 L2552.2,192.6 L2561.3,188.2 L2571,184.2 L2581.2,180.7 L2591.9,177.6 L2603,175.1 L2614.5,173.1 L2626.1,171.7 L2638,170.7 L2649.9,170.4 L2661.9,170.6 L2673.7,171.4 L2685.5,172.7 L2697,174.6 L2708.2,177 Q2727.3,189.4 2730.5,203.4 L2730.5,243.4" fill="none" stroke="#000" stroke-width="6.2" stroke-linecap="round"/><path d="M2505.8,253.4 L2506.3,246.6 L2507.8,239.8 L2510.2,233.1 L2513.6,226.6 L2517.9,220.2 L2523.1,214.1 L2529.2,208.2 L2536.1,202.7 L2543.8,197.5 L2552.2,192.6 L2561.3,188.2 L2571,184.2 L2581.2,180.7 L2591.9,177.6 L2603,175.1 L2614.5,173.1 L2626.1,171.7 L2638,170.7 L2649.9,170.4 L2661.9,170.6 L2673.7,171.4 L2685.5,172.7 L2697,174.6 L2708.2,177 Q2727.3,189.4 2730.5,203.4 L2730.5,243.4" fill="none" stroke="#e8e8e8" stroke-width="1.1" stroke-linecap="round"/>
<g transform="translate(2763.3,199)" fill="none" stroke="#000" stroke-linecap="round"><line x1="-13.7" y1="-14" x2="-13.7" y2="52" stroke-width="4.6"/><line x1="-13.7" y1="-14" x2="-13.7" y2="52" stroke="#ddd" stroke-width="1.4"/><line x1="17.8" y1="-12" x2="17.8" y2="70" stroke-width="4.6"/><line x1="17.8" y1="-12" x2="17.8" y2="70" stroke="#ddd" stroke-width="1.4"/><line x1="28.6" y1="6" x2="28.6" y2="110" stroke-width="4.6"/><line x1="28.6" y1="6" x2="28.6" y2="110" stroke="#ddd" stroke-width="1.4"/><line x1="-32.8" y1="4" x2="-32.8" y2="46" stroke-width="4.6"/><line x1="-32.8" y1="4" x2="-32.8" y2="46" stroke="#fff" stroke-width="1.4"/><path d="M-32,-0 L-31.5,-3.3 L-29.9,-6.4 L-27.4,-9.3 L-23.9,-12 L-19.7,-14.2 L-14.8,-16 L-9.4,-17.2 L-3.7,-17.9 L2.1,-18 L7.8,-17.5 L13.3,-16.4 L18.4,-14.7 L22.8,-12.6 L26.5,-10.1 L29.3,-7.2 L31.1,-4.2 L32,-0.9 L31.7,2.3 L30.4,5.5 L28.2,8.5 L25,11.3 L20.9,13.6 L16.2,15.5 L10.9,16.9" stroke-width="5"/><path d="M-32,-0 L-31.5,-3.3 L-29.9,-6.4 L-27.4,-9.3 L-23.9,-12 L-19.7,-14.2 L-14.8,-16 L-9.4,-17.2 L-3.7,-17.9 L2.1,-18 L7.8,-17.5 L13.3,-16.4 L18.4,-14.7 L22.8,-12.6 L26.5,-10.1 L29.3,-7.2 L31.1,-4.2 L32,-0.9 L31.7,2.3 L30.4,5.5 L28.2,8.5 L25,11.3 L20.9,13.6 L16.2,15.5 L10.9,16.9" stroke="#fff" stroke-width="1.6"/><path d="M-32,46.4 L-31.3,43.3 L-29.7,40.3 L-27.2,37.5 L-23.9,35 L-19.9,32.9 L-15.3,31.2 L-10.2,29.9 L-4.8,29.2 L0.7,29 L6.2,29.3 L11.5,30.2 L16.5,31.6 L21,33.4 L24.8,35.6 L27.9,38.2 L30.2,41 L31.6,44.1 L32,47.2 L31.5,50.3 L30,53.3 L27.6,56.1 L24.5,58.6 L20.5,60.8 L16,62.6" stroke-width="5"/><path d="M-32,46.4 L-31.3,43.3 L-29.7,40.3 L-27.2,37.5 L-23.9,35 L-19.9,32.9 L-15.3,31.2 L-10.2,29.9 L-4.8,29.2 L0.7,29 L6.2,29.3 L11.5,30.2 L16.5,31.6 L21,33.4 L24.8,35.6 L27.9,38.2 L30.2,41 L31.6,44.1 L32,47.2 L31.5,50.3 L30,53.3 L27.6,56.1 L24.5,58.6 L20.5,60.8 L16,62.6" stroke="#fff" stroke-width="1.6"/><line x1="1.8" y1="3" x2="1.8" y2="73" stroke-width="4.2"/><line x1="1.8" y1="3" x2="1.8" y2="73" stroke="#bbb" stroke-width="1.2"/><path d="M1,2 Q10,8 12.5,20 L12.5,100" stroke-width="4.6"/><path d="M22,30 L22,104 M33,50 L33,112" stroke-width="3"/></g>
<g transform="translate(2588.8,297)"><rect x="-2.2" y="6" width="4.4" height="13" fill="#fff" stroke="#000" stroke-width="1.8"/><path d="M-8.4,-3 L-8.4,5 A8.4,3.4 0 0 0 8.4,5 L8.4,-3 Z" fill="#f4f4f4" stroke="#000" stroke-width="2"/><ellipse cx="0" cy="-3" rx="8.4" ry="3.6" fill="#fff" stroke="#000" stroke-width="2"/></g>
<g transform="translate(2740.8,281)"><path d="M-9,8 L-9,22 A9,4.4 0 0 0 9,22 L9,8 Z" fill="#eee" stroke="#000" stroke-width="2"/><path d="M-9,16 A9,4.4 0 0 0 9,16" fill="none" stroke="#000" stroke-width="1.6"/><path d="M-17.5,0 L-17.5,9 A17.5,7.6 0 0 0 17.5,9 L17.5,0 Z" fill="url(#gFil)" stroke="#000" stroke-width="2.4"/><ellipse cx="0" cy="0" rx="17.5" ry="7.6" fill="#fff" stroke="#000" stroke-width="2.4"/><ellipse cx="0" cy="-1" rx="11" ry="4.8" fill="#fff" stroke="#000" stroke-width="2"/><path d="M-11,-1 L-11,-4 A11,4.8 0 0 1 11,-4 L11,-1" fill="#fff" stroke="#000" stroke-width="2"/></g>
<ellipse cx="2651.3" cy="256" rx="35.2" ry="20" fill="#fff" stroke="#000" stroke-width="3"/>
<path d="M2620.9,153.5 L2620.9,250.5 A30.4,17.3 0 0 0 2681.7,250.5 L2681.7,153.5 Z" fill="url(#gFil)" stroke="#000" stroke-width="3"/>
<ellipse cx="2651.3" cy="153.5" rx="30.4" ry="17.3" fill="#fff" stroke="#000" stroke-width="3"/>
<ellipse cx="2651.3" cy="153.5" rx="26.5" ry="14" fill="url(#pFilt)" stroke="none"/>
<g transform="translate(2675.3,185)"><path d="M-8,-6 L16,-16 L20,-8 L-4,4 Z" fill="#fff" stroke="#000" stroke-width="2.2" stroke-linejoin="round"/><path d="M-2,-15 L10,-20 L14,-12 L2,-7 Z" fill="#222" stroke="#000" stroke-width="2"/><path d="M-14,4 L-4,-2 L0,6 L-2,14 L-12,15 Z" fill="#fff" stroke="#000" stroke-width="2.2" stroke-linejoin="round"/><path d="M-18,5 L-12,3" stroke="#000" stroke-width="3"/><circle cx="16" cy="-14" r="3" fill="#000"/></g>
<line x1="2651.3" y1="336.4" x2="2651.3" y2="408.9" stroke="#000" stroke-width="5.2"/><line x1="2651.3" y1="337.4" x2="2651.3" y2="407.4" stroke="#b0b0b0" stroke-width="1.3"/>
<line x1="2714.3" y1="328.2" x2="2714.3" y2="400.7" stroke="#000" stroke-width="5.2"/><line x1="2714.3" y1="329.2" x2="2714.3" y2="399.2" stroke="#b0b0b0" stroke-width="1.3"/>
<line x1="2764.9" y1="305.1" x2="2764.9" y2="377.6" stroke="#000" stroke-width="5.2"/><line x1="2764.9" y1="306.1" x2="2764.9" y2="376.1" stroke="#b0b0b0" stroke-width="1.3"/>
<line x1="2793" y1="271.9" x2="2793" y2="344.4" stroke="#000" stroke-width="5.2"/><line x1="2793" y1="272.9" x2="2793" y2="342.9" stroke="#b0b0b0" stroke-width="1.3"/>
<line x1="2509.6" y1="271.9" x2="2509.6" y2="344.4" stroke="#000" stroke-width="5.2"/><line x1="2509.6" y1="272.9" x2="2509.6" y2="342.9" stroke="#b0b0b0" stroke-width="1.3"/>
<line x1="2537.7" y1="305.1" x2="2537.7" y2="377.6" stroke="#000" stroke-width="5.2"/><line x1="2537.7" y1="306.1" x2="2537.7" y2="376.1" stroke="#b0b0b0" stroke-width="1.3"/>
<line x1="2588.3" y1="328.2" x2="2588.3" y2="400.7" stroke="#000" stroke-width="5.2"/><line x1="2588.3" y1="329.2" x2="2588.3" y2="399.2" stroke="#b0b0b0" stroke-width="1.3"/>
<path d="M2505.8,287.4 L2507,298.2 L2510.8,308.9 L2516.9,319.2 L2525.3,328.9 L2535.9,337.9 L2548.4,346.1 L2562.7,353.2 L2578.6,359.3 L2595.6,364.1 L2613.6,367.6 L2632.3,369.7 L2651.3,370.4 L2670.3,369.7 L2689,367.6 L2707,364.1 L2724.1,359.3 L2739.9,353.2 L2754.2,346.1 L2766.7,337.9 L2777.3,328.9 L2785.7,319.2 L2791.8,308.9 L2795.6,298.2 L2796.8,287.4" fill="none" stroke="#000" stroke-width="5.6" stroke-linecap="round"/><path d="M2505.8,287.4 L2507,298.2 L2510.8,308.9 L2516.9,319.2 L2525.3,328.9 L2535.9,337.9 L2548.4,346.1 L2562.7,353.2 L2578.6,359.3 L2595.6,364.1 L2613.6,367.6 L2632.3,369.7 L2651.3,370.4 L2670.3,369.7 L2689,367.6 L2707,364.1 L2724.1,359.3 L2739.9,353.2 L2754.2,346.1 L2766.7,337.9 L2777.3,328.9 L2785.7,319.2 L2791.8,308.9 L2795.6,298.2 L2796.8,287.4" fill="none" stroke="#e8e8e8" stroke-width="1" stroke-linecap="round"/>
<path d="M2505.8,253.4 L2507,264.2 L2510.8,274.9 L2516.9,285.2 L2525.3,294.9 L2535.9,303.9 L2548.4,312.1 L2562.7,319.2 L2578.6,325.3 L2595.6,330.1 L2613.6,333.6 L2632.3,335.7 L2651.3,336.4 L2670.3,335.7 L2689,333.6 L2707,330.1 L2724.1,325.3 L2739.9,319.2 L2754.2,312.1 L2766.7,303.9 L2777.3,294.9 L2785.7,285.2 L2791.8,274.9 L2795.6,264.2 L2796.8,253.4" fill="none" stroke="#000" stroke-width="6.2" stroke-linecap="round"/><path d="M2505.8,253.4 L2507,264.2 L2510.8,274.9 L2516.9,285.2 L2525.3,294.9 L2535.9,303.9 L2548.4,312.1 L2562.7,319.2 L2578.6,325.3 L2595.6,330.1 L2613.6,333.6 L2632.3,335.7 L2651.3,336.4 L2670.3,335.7 L2689,333.6 L2707,330.1 L2724.1,325.3 L2739.9,319.2 L2754.2,312.1 L2766.7,303.9 L2777.3,294.9 L2785.7,285.2 L2791.8,274.9 L2795.6,264.2 L2796.8,253.4" fill="none" stroke="#e8e8e8" stroke-width="1.1" stroke-linecap="round"/>
<path d="M2764.3,201.4 Q2779.3,213.4 2787.3,229.4 Q2796.3,245.4 2796.8,259.4" fill="none" stroke="#000" stroke-width="5" stroke-linecap="round"/>
<g transform="translate(2791.6,400) scale(1)"><path d="M1,-3.4 L13,1 L11,7.4 L-1,3 Q-3,-1 1,-3.4 Z" fill="#fff" stroke="#000" stroke-width="2" stroke-linejoin="round"/><path d="M14,0 L31,6 L28,19 L11,12.4 Z" fill="#f4f4f4" stroke="#000" stroke-width="2.4" stroke-linejoin="round"/><ellipse cx="12.4" cy="6" rx="3" ry="6.6" transform="rotate(18 12.4 6)" fill="#fff" stroke="#000" stroke-width="3"/><ellipse cx="17" cy="7.6" rx="3" ry="6.6" transform="rotate(18 17 7.6)" fill="#fff" stroke="#000" stroke-width="3"/><ellipse cx="29.6" cy="12.4" rx="4.6" ry="7" transform="rotate(18 29.6 12.4)" fill="#fff" stroke="#000" stroke-width="2.8"/><ellipse cx="30" cy="12.6" rx="2" ry="3.8" transform="rotate(18 30 12.6)" fill="#fff" stroke="#000" stroke-width="1.4"/></g>
<g transform="translate(2692.3,830) scale(1)"><path d="M1,-3.4 L13,1 L11,7.4 L-1,3 Q-3,-1 1,-3.4 Z" fill="#fff" stroke="#000" stroke-width="2" stroke-linejoin="round"/><path d="M14,0 L31,6 L28,19 L11,12.4 Z" fill="#f4f4f4" stroke="#000" stroke-width="2.4" stroke-linejoin="round"/><ellipse cx="12.4" cy="6" rx="3" ry="6.6" transform="rotate(18 12.4 6)" fill="#fff" stroke="#000" stroke-width="3"/><ellipse cx="17" cy="7.6" rx="3" ry="6.6" transform="rotate(18 17 7.6)" fill="#fff" stroke="#000" stroke-width="3"/><ellipse cx="29.6" cy="12.4" rx="4.6" ry="7" transform="rotate(18 29.6 12.4)" fill="#fff" stroke="#000" stroke-width="2.8"/><ellipse cx="30" cy="12.6" rx="2" ry="3.8" transform="rotate(18 30 12.6)" fill="#fff" stroke="#000" stroke-width="1.4"/></g>
<g transform="translate(2627.3,851.6) scale(1.1)"><path d="M-5,-9.6 L4,-8.4 L9,-1 L8,4.6 L4,1 Z" fill="#fff" stroke="#000" stroke-width="1.8" stroke-linejoin="round"/><path d="M-5,-4 L3,-6 L7,1 L1,5 L-3,10 L-9,7 L-9,0 Z" fill="#9a9a9a" stroke="#000" stroke-width="1.6" stroke-linejoin="round"/><ellipse cx="-5" cy="4" rx="3.6" ry="4.4" fill="#ddd" stroke="#000" stroke-width="1.6" stroke-dasharray="1.5 1"/></g>
<g transform="translate(2651.3,924)"><ellipse cx="9" cy="17" rx="14" ry="7" fill="#fff" stroke="#000" stroke-width="2.6"/><path d="M-45.3,10.7 L-20.8,1.1 L27.2,-0.5 L28.4,5.5 L-25,36.4 L-31,34 Z" fill="#1c1c1c" stroke="#000" stroke-width="2.6" stroke-linejoin="round"/><path d="M-37,12.4 L-20,5.4 L-4,9 L-24,23 Z" fill="#b8b8b8" stroke="none"/><path d="M-40,10.4 L-20,2.6 M-23,13 L-10,18 M-6,20 L12,11" stroke="#fff" stroke-width="1.6" stroke-dasharray="1.4 3" fill="none"/><path d="M-25,36.4 L28.4,5.5" stroke="#000" stroke-width="3.6" fill="none"/><path d="M-27,33 L26,2.6" stroke="#fff" stroke-width="1" fill="none"/><ellipse cx="0" cy="-3.6" rx="21.3" ry="9" fill="none" stroke="#000" stroke-width="5"/><ellipse cx="0" cy="-5" rx="17" ry="6.4" fill="none" stroke="#000" stroke-width="1.6"/><ellipse cx="-44.2" cy="26.6" rx="10.6" ry="15" transform="rotate(-18 -44.2 26.6)" fill="#fff" stroke="#000" stroke-width="6.6"/><path d="M-50,13 L-38,40 M-55,31 L-33,22" stroke="#000" stroke-width="4.6"/><ellipse cx="-44.2" cy="26.6" rx="4" ry="5" fill="#000"/><path d="M-33,17 L-27,35" stroke="#000" stroke-width="5.4"/></g>
<path d="M2648.8,958 L2653.8,958 L2653.8,975 L2657.3,973.5 L2651.3,987 L2645.3,973.5 L2648.8,975 Z" fill="#000"/>
<path d="M2648.8,1002 L2653.8,1002 L2653.8,1019 L2657.3,1017.5 L2651.3,1031 L2645.3,1017.5 L2648.8,1019 Z" fill="#000"/>
<path d="M1962,438 L2228,285.3 Q2245,275.5 2262,273.7 L2625.3,281.3 C2642.2,281.6 2651.3,291.7 2651.3,307.3 L2651.3,310" stroke="#000" stroke-width="9.4" fill="none" stroke-linejoin="round"/>
<path d="M1962,438 L2228,285.3 Q2245,275.5 2262,273.7 L2625.3,281.3 C2642.2,281.6 2651.3,291.7 2651.3,307.3 L2651.3,310" stroke="#fff" stroke-width="5.2" fill="none" stroke-linejoin="round"/>
<ellipse cx="2651.3" cy="310" rx="10.6" ry="5.2" fill="#fff" stroke="#000" stroke-width="2.6"/>
<path d="M2651.3,301 L2651.3,309" stroke="#fff" stroke-width="5.2" fill="none"/>
<path d="M2647.7,301 L2647.7,310 M2655,301 L2655,310" stroke="#000" stroke-width="2.1" fill="none"/>
<rect x="2647.1" y="315" width="8.4" height="14" fill="#fff" stroke="#000" stroke-width="2.2"/>
<line x1="2389" y1="364.1" x2="2389" y2="436.6" stroke="#000" stroke-width="5.2"/><line x1="2389" y1="365.1" x2="2389" y2="435.1" stroke="#b0b0b0" stroke-width="1.3"/>
<line x1="2326" y1="355.9" x2="2326" y2="428.4" stroke="#000" stroke-width="5.2"/><line x1="2326" y1="356.9" x2="2326" y2="426.9" stroke="#b0b0b0" stroke-width="1.3"/>
<line x1="2263" y1="364.1" x2="2263" y2="436.6" stroke="#000" stroke-width="5.2"/><line x1="2263" y1="365.1" x2="2263" y2="435.1" stroke="#b0b0b0" stroke-width="1.3"/>
<line x1="2212.4" y1="387.2" x2="2212.4" y2="459.7" stroke="#000" stroke-width="5.2"/><line x1="2212.4" y1="388.2" x2="2212.4" y2="458.2" stroke="#b0b0b0" stroke-width="1.3"/>
<line x1="2184.3" y1="420.4" x2="2184.3" y2="492.9" stroke="#000" stroke-width="5.2"/><line x1="2184.3" y1="421.4" x2="2184.3" y2="491.4" stroke="#b0b0b0" stroke-width="1.3"/>
<path d="M2180.5,472.9 L2181,465.9 L2182.6,459 L2185.1,452.1 L2188.7,445.4 L2193.3,438.9 L2198.7,432.7 L2205.1,426.7 L2212.4,421 L2220.5,415.8 L2229.3,410.9 L2238.8,406.5 L2248.9,402.5 L2259.6,399.1 L2270.7,396.1 L2282.2,393.7 L2294.1,391.9 L2306.2,390.7 L2318.4,390 L2330.7,389.9 L2342.9,390.5 L2355,391.6 L2366.9,393.2 L2378.5,395.5 L2389.8,398.3" fill="none" stroke="#000" stroke-width="5.6" stroke-linecap="round"/><path d="M2180.5,472.9 L2181,465.9 L2182.6,459 L2185.1,452.1 L2188.7,445.4 L2193.3,438.9 L2198.7,432.7 L2205.1,426.7 L2212.4,421 L2220.5,415.8 L2229.3,410.9 L2238.8,406.5 L2248.9,402.5 L2259.6,399.1 L2270.7,396.1 L2282.2,393.7 L2294.1,391.9 L2306.2,390.7 L2318.4,390 L2330.7,389.9 L2342.9,390.5 L2355,391.6 L2366.9,393.2 L2378.5,395.5 L2389.8,398.3" fill="none" stroke="#e8e8e8" stroke-width="1" stroke-linecap="round"/>
<path d="M2180.5,438.9 L2181,432.1 L2182.5,425.3 L2184.9,418.6 L2188.3,412.1 L2192.6,405.7 L2197.8,399.6 L2203.9,393.7 L2210.8,388.2 L2218.5,383 L2226.9,378.1 L2236,373.7 L2245.7,369.7 L2255.9,366.2 L2266.6,363.1 L2277.7,360.6 L2289.2,358.6 L2300.8,357.2 L2312.7,356.2 L2324.6,355.9 L2336.6,356.1 L2348.4,356.9 L2360.2,358.2 L2371.7,360.1 L2382.9,362.5 Q2402,374.9 2405.2,388.9 L2405.2,428.9" fill="none" stroke="#000" stroke-width="6.2" stroke-linecap="round"/><path d="M2180.5,438.9 L2181,432.1 L2182.5,425.3 L2184.9,418.6 L2188.3,412.1 L2192.6,405.7 L2197.8,399.6 L2203.9,393.7 L2210.8,388.2 L2218.5,383 L2226.9,378.1 L2236,373.7 L2245.7,369.7 L2255.9,366.2 L2266.6,363.1 L2277.7,360.6 L2289.2,358.6 L2300.8,357.2 L2312.7,356.2 L2324.6,355.9 L2336.6,356.1 L2348.4,356.9 L2360.2,358.2 L2371.7,360.1 L2382.9,362.5 Q2402,374.9 2405.2,388.9 L2405.2,428.9" fill="none" stroke="#e8e8e8" stroke-width="1.1" stroke-linecap="round"/>
<g transform="translate(2438,384.5)" fill="none" stroke="#000" stroke-linecap="round"><line x1="-13.7" y1="-14" x2="-13.7" y2="52" stroke-width="4.6"/><line x1="-13.7" y1="-14" x2="-13.7" y2="52" stroke="#ddd" stroke-width="1.4"/><line x1="17.8" y1="-12" x2="17.8" y2="70" stroke-width="4.6"/><line x1="17.8" y1="-12" x2="17.8" y2="70" stroke="#ddd" stroke-width="1.4"/><line x1="28.6" y1="6" x2="28.6" y2="110" stroke-width="4.6"/><line x1="28.6" y1="6" x2="28.6" y2="110" stroke="#ddd" stroke-width="1.4"/><line x1="-32.8" y1="4" x2="-32.8" y2="46" stroke-width="4.6"/><line x1="-32.8" y1="4" x2="-32.8" y2="46" stroke="#fff" stroke-width="1.4"/><path d="M-32,-0 L-31.5,-3.3 L-29.9,-6.4 L-27.4,-9.3 L-23.9,-12 L-19.7,-14.2 L-14.8,-16 L-9.4,-17.2 L-3.7,-17.9 L2.1,-18 L7.8,-17.5 L13.3,-16.4 L18.4,-14.7 L22.8,-12.6 L26.5,-10.1 L29.3,-7.2 L31.1,-4.2 L32,-0.9 L31.7,2.3 L30.4,5.5 L28.2,8.5 L25,11.3 L20.9,13.6 L16.2,15.5 L10.9,16.9" stroke-width="5"/><path d="M-32,-0 L-31.5,-3.3 L-29.9,-6.4 L-27.4,-9.3 L-23.9,-12 L-19.7,-14.2 L-14.8,-16 L-9.4,-17.2 L-3.7,-17.9 L2.1,-18 L7.8,-17.5 L13.3,-16.4 L18.4,-14.7 L22.8,-12.6 L26.5,-10.1 L29.3,-7.2 L31.1,-4.2 L32,-0.9 L31.7,2.3 L30.4,5.5 L28.2,8.5 L25,11.3 L20.9,13.6 L16.2,15.5 L10.9,16.9" stroke="#fff" stroke-width="1.6"/><path d="M-32,46.4 L-31.3,43.3 L-29.7,40.3 L-27.2,37.5 L-23.9,35 L-19.9,32.9 L-15.3,31.2 L-10.2,29.9 L-4.8,29.2 L0.7,29 L6.2,29.3 L11.5,30.2 L16.5,31.6 L21,33.4 L24.8,35.6 L27.9,38.2 L30.2,41 L31.6,44.1 L32,47.2 L31.5,50.3 L30,53.3 L27.6,56.1 L24.5,58.6 L20.5,60.8 L16,62.6" stroke-width="5"/><path d="M-32,46.4 L-31.3,43.3 L-29.7,40.3 L-27.2,37.5 L-23.9,35 L-19.9,32.9 L-15.3,31.2 L-10.2,29.9 L-4.8,29.2 L0.7,29 L6.2,29.3 L11.5,30.2 L16.5,31.6 L21,33.4 L24.8,35.6 L27.9,38.2 L30.2,41 L31.6,44.1 L32,47.2 L31.5,50.3 L30,53.3 L27.6,56.1 L24.5,58.6 L20.5,60.8 L16,62.6" stroke="#fff" stroke-width="1.6"/><line x1="1.8" y1="3" x2="1.8" y2="73" stroke-width="4.2"/><line x1="1.8" y1="3" x2="1.8" y2="73" stroke="#bbb" stroke-width="1.2"/><path d="M1,2 Q10,8 12.5,20 L12.5,100" stroke-width="4.6"/><path d="M22,30 L22,104 M33,50 L33,112" stroke-width="3"/></g>
<g transform="translate(2263.5,482.5)"><rect x="-2.2" y="6" width="4.4" height="13" fill="#fff" stroke="#000" stroke-width="1.8"/><path d="M-8.4,-3 L-8.4,5 A8.4,3.4 0 0 0 8.4,5 L8.4,-3 Z" fill="#f4f4f4" stroke="#000" stroke-width="2"/><ellipse cx="0" cy="-3" rx="8.4" ry="3.6" fill="#fff" stroke="#000" stroke-width="2"/></g>
<g transform="translate(2415.5,466.5)"><path d="M-9,8 L-9,22 A9,4.4 0 0 0 9,22 L9,8 Z" fill="#eee" stroke="#000" stroke-width="2"/><path d="M-9,16 A9,4.4 0 0 0 9,16" fill="none" stroke="#000" stroke-width="1.6"/><path d="M-17.5,0 L-17.5,9 A17.5,7.6 0 0 0 17.5,9 L17.5,0 Z" fill="url(#gFil)" stroke="#000" stroke-width="2.4"/><ellipse cx="0" cy="0" rx="17.5" ry="7.6" fill="#fff" stroke="#000" stroke-width="2.4"/><ellipse cx="0" cy="-1" rx="11" ry="4.8" fill="#fff" stroke="#000" stroke-width="2"/><path d="M-11,-1 L-11,-4 A11,4.8 0 0 1 11,-4 L11,-1" fill="#fff" stroke="#000" stroke-width="2"/></g>
<ellipse cx="2341" cy="441.5" rx="35.2" ry="20" fill="#fff" stroke="#000" stroke-width="3"/>
<path d="M2310.6,339 L2310.6,436 A30.4,17.3 0 0 0 2371.4,436 L2371.4,339 Z" fill="url(#gFil)" stroke="#000" stroke-width="3"/>
<ellipse cx="2341" cy="339" rx="30.4" ry="17.3" fill="#fff" stroke="#000" stroke-width="3"/>
<ellipse cx="2341" cy="339" rx="26.5" ry="14" fill="url(#pFilt)" stroke="none"/>
<g transform="translate(2365,370.5)"><path d="M-8,-6 L16,-16 L20,-8 L-4,4 Z" fill="#fff" stroke="#000" stroke-width="2.2" stroke-linejoin="round"/><path d="M-2,-15 L10,-20 L14,-12 L2,-7 Z" fill="#222" stroke="#000" stroke-width="2"/><path d="M-14,4 L-4,-2 L0,6 L-2,14 L-12,15 Z" fill="#fff" stroke="#000" stroke-width="2.2" stroke-linejoin="round"/><path d="M-18,5 L-12,3" stroke="#000" stroke-width="3"/><circle cx="16" cy="-14" r="3" fill="#000"/></g>
<line x1="2326" y1="521.9" x2="2326" y2="594.4" stroke="#000" stroke-width="5.2"/><line x1="2326" y1="522.9" x2="2326" y2="592.9" stroke="#b0b0b0" stroke-width="1.3"/>
<line x1="2389" y1="513.7" x2="2389" y2="586.2" stroke="#000" stroke-width="5.2"/><line x1="2389" y1="514.7" x2="2389" y2="584.7" stroke="#b0b0b0" stroke-width="1.3"/>
<line x1="2439.6" y1="490.6" x2="2439.6" y2="563.1" stroke="#000" stroke-width="5.2"/><line x1="2439.6" y1="491.6" x2="2439.6" y2="561.6" stroke="#b0b0b0" stroke-width="1.3"/>
<line x1="2467.7" y1="457.4" x2="2467.7" y2="529.9" stroke="#000" stroke-width="5.2"/><line x1="2467.7" y1="458.4" x2="2467.7" y2="528.4" stroke="#b0b0b0" stroke-width="1.3"/>
<line x1="2184.3" y1="457.4" x2="2184.3" y2="529.9" stroke="#000" stroke-width="5.2"/><line x1="2184.3" y1="458.4" x2="2184.3" y2="528.4" stroke="#b0b0b0" stroke-width="1.3"/>
<line x1="2212.4" y1="490.6" x2="2212.4" y2="563.1" stroke="#000" stroke-width="5.2"/><line x1="2212.4" y1="491.6" x2="2212.4" y2="561.6" stroke="#b0b0b0" stroke-width="1.3"/>
<line x1="2263" y1="513.7" x2="2263" y2="586.2" stroke="#000" stroke-width="5.2"/><line x1="2263" y1="514.7" x2="2263" y2="584.7" stroke="#b0b0b0" stroke-width="1.3"/>
<path d="M2180.5,472.9 L2181.7,483.7 L2185.5,494.4 L2191.6,504.7 L2200,514.4 L2210.6,523.4 L2223.1,531.6 L2237.4,538.7 L2253.2,544.8 L2270.3,549.6 L2288.3,553.1 L2307,555.2 L2326,555.9 L2345,555.2 L2363.7,553.1 L2381.7,549.6 L2398.8,544.8 L2414.6,538.7 L2428.9,531.6 L2441.4,523.4 L2452,514.4 L2460.4,504.7 L2466.5,494.4 L2470.3,483.7 L2471.5,472.9" fill="none" stroke="#000" stroke-width="5.6" stroke-linecap="round"/><path d="M2180.5,472.9 L2181.7,483.7 L2185.5,494.4 L2191.6,504.7 L2200,514.4 L2210.6,523.4 L2223.1,531.6 L2237.4,538.7 L2253.2,544.8 L2270.3,549.6 L2288.3,553.1 L2307,555.2 L2326,555.9 L2345,555.2 L2363.7,553.1 L2381.7,549.6 L2398.8,544.8 L2414.6,538.7 L2428.9,531.6 L2441.4,523.4 L2452,514.4 L2460.4,504.7 L2466.5,494.4 L2470.3,483.7 L2471.5,472.9" fill="none" stroke="#e8e8e8" stroke-width="1" stroke-linecap="round"/>
<path d="M2180.5,438.9 L2181.7,449.7 L2185.5,460.4 L2191.6,470.7 L2200,480.4 L2210.6,489.4 L2223.1,497.6 L2237.4,504.7 L2253.2,510.8 L2270.3,515.6 L2288.3,519.1 L2307,521.2 L2326,521.9 L2345,521.2 L2363.7,519.1 L2381.7,515.6 L2398.8,510.8 L2414.6,504.7 L2428.9,497.6 L2441.4,489.4 L2452,480.4 L2460.4,470.7 L2466.5,460.4 L2470.3,449.7 L2471.5,438.9" fill="none" stroke="#000" stroke-width="6.2" stroke-linecap="round"/><path d="M2180.5,438.9 L2181.7,449.7 L2185.5,460.4 L2191.6,470.7 L2200,480.4 L2210.6,489.4 L2223.1,497.6 L2237.4,504.7 L2253.2,510.8 L2270.3,515.6 L2288.3,519.1 L2307,521.2 L2326,521.9 L2345,521.2 L2363.7,519.1 L2381.7,515.6 L2398.8,510.8 L2414.6,504.7 L2428.9,497.6 L2441.4,489.4 L2452,480.4 L2460.4,470.7 L2466.5,460.4 L2470.3,449.7 L2471.5,438.9" fill="none" stroke="#e8e8e8" stroke-width="1.1" stroke-linecap="round"/>
<path d="M2439,386.9 Q2454,398.9 2462,414.9 Q2471,430.9 2471.5,444.9" fill="none" stroke="#000" stroke-width="5" stroke-linecap="round"/>
<g transform="translate(2466.3,585.5) scale(1)"><path d="M1,-3.4 L13,1 L11,7.4 L-1,3 Q-3,-1 1,-3.4 Z" fill="#fff" stroke="#000" stroke-width="2" stroke-linejoin="round"/><path d="M14,0 L31,6 L28,19 L11,12.4 Z" fill="#f4f4f4" stroke="#000" stroke-width="2.4" stroke-linejoin="round"/><ellipse cx="12.4" cy="6" rx="3" ry="6.6" transform="rotate(18 12.4 6)" fill="#fff" stroke="#000" stroke-width="3"/><ellipse cx="17" cy="7.6" rx="3" ry="6.6" transform="rotate(18 17 7.6)" fill="#fff" stroke="#000" stroke-width="3"/><ellipse cx="29.6" cy="12.4" rx="4.6" ry="7" transform="rotate(18 29.6 12.4)" fill="#fff" stroke="#000" stroke-width="2.8"/><ellipse cx="30" cy="12.6" rx="2" ry="3.8" transform="rotate(18 30 12.6)" fill="#fff" stroke="#000" stroke-width="1.4"/></g>
<g transform="translate(2367,1015.5) scale(1)"><path d="M1,-3.4 L13,1 L11,7.4 L-1,3 Q-3,-1 1,-3.4 Z" fill="#fff" stroke="#000" stroke-width="2" stroke-linejoin="round"/><path d="M14,0 L31,6 L28,19 L11,12.4 Z" fill="#f4f4f4" stroke="#000" stroke-width="2.4" stroke-linejoin="round"/><ellipse cx="12.4" cy="6" rx="3" ry="6.6" transform="rotate(18 12.4 6)" fill="#fff" stroke="#000" stroke-width="3"/><ellipse cx="17" cy="7.6" rx="3" ry="6.6" transform="rotate(18 17 7.6)" fill="#fff" stroke="#000" stroke-width="3"/><ellipse cx="29.6" cy="12.4" rx="4.6" ry="7" transform="rotate(18 29.6 12.4)" fill="#fff" stroke="#000" stroke-width="2.8"/><ellipse cx="30" cy="12.6" rx="2" ry="3.8" transform="rotate(18 30 12.6)" fill="#fff" stroke="#000" stroke-width="1.4"/></g>
<g transform="translate(2302,1037.1) scale(1.1)"><path d="M-5,-9.6 L4,-8.4 L9,-1 L8,4.6 L4,1 Z" fill="#fff" stroke="#000" stroke-width="1.8" stroke-linejoin="round"/><path d="M-5,-4 L3,-6 L7,1 L1,5 L-3,10 L-9,7 L-9,0 Z" fill="#9a9a9a" stroke="#000" stroke-width="1.6" stroke-linejoin="round"/><ellipse cx="-5" cy="4" rx="3.6" ry="4.4" fill="#ddd" stroke="#000" stroke-width="1.6" stroke-dasharray="1.5 1"/></g>
<g transform="translate(2326,1109.5)"><ellipse cx="9" cy="17" rx="14" ry="7" fill="#fff" stroke="#000" stroke-width="2.6"/><path d="M-45.3,10.7 L-20.8,1.1 L27.2,-0.5 L28.4,5.5 L-25,36.4 L-31,34 Z" fill="#1c1c1c" stroke="#000" stroke-width="2.6" stroke-linejoin="round"/><path d="M-37,12.4 L-20,5.4 L-4,9 L-24,23 Z" fill="#b8b8b8" stroke="none"/><path d="M-40,10.4 L-20,2.6 M-23,13 L-10,18 M-6,20 L12,11" stroke="#fff" stroke-width="1.6" stroke-dasharray="1.4 3" fill="none"/><path d="M-25,36.4 L28.4,5.5" stroke="#000" stroke-width="3.6" fill="none"/><path d="M-27,33 L26,2.6" stroke="#fff" stroke-width="1" fill="none"/><ellipse cx="0" cy="-3.6" rx="21.3" ry="9" fill="none" stroke="#000" stroke-width="5"/><ellipse cx="0" cy="-5" rx="17" ry="6.4" fill="none" stroke="#000" stroke-width="1.6"/><ellipse cx="-44.2" cy="26.6" rx="10.6" ry="15" transform="rotate(-18 -44.2 26.6)" fill="#fff" stroke="#000" stroke-width="6.6"/><path d="M-50,13 L-38,40 M-55,31 L-33,22" stroke="#000" stroke-width="4.6"/><ellipse cx="-44.2" cy="26.6" rx="4" ry="5" fill="#000"/><path d="M-33,17 L-27,35" stroke="#000" stroke-width="5.4"/></g>
<path d="M2323.5,1143.5 L2328.5,1143.5 L2328.5,1160.5 L2332,1159 L2326,1172.5 L2320,1159 L2323.5,1160.5 Z" fill="#000"/>
<path d="M2323.5,1187.5 L2328.5,1187.5 L2328.5,1204.5 L2332,1203 L2326,1216.5 L2320,1203 L2323.5,1204.5 Z" fill="#000"/>
<path d="M1930,462 L1976,458 L2040,448.6 Q2046,447.6 2052,447.5 L2300,453.6 C2316.9,453.9 2326,464 2326,479.6 L2326,495.5" stroke="#000" stroke-width="9.4" fill="none" stroke-linejoin="round"/>
<path d="M1930,462 L1976,458 L2040,448.6 Q2046,447.6 2052,447.5 L2300,453.6 C2316.9,453.9 2326,464 2326,479.6 L2326,495.5" stroke="#fff" stroke-width="5.2" fill="none" stroke-linejoin="round"/>
<ellipse cx="2326" cy="495.5" rx="10.6" ry="5.2" fill="#fff" stroke="#000" stroke-width="2.6"/>
<path d="M2326,486.5 L2326,494.5" stroke="#fff" stroke-width="5.2" fill="none"/>
<path d="M2322.3,486.5 L2322.3,495.5 M2329.7,486.5 L2329.7,495.5" stroke="#000" stroke-width="2.1" fill="none"/>
<rect x="2321.8" y="500.5" width="8.4" height="14" fill="#fff" stroke="#000" stroke-width="2.2"/>
<line x1="2063.5" y1="549.6" x2="2063.5" y2="622.1" stroke="#000" stroke-width="5.2"/><line x1="2063.5" y1="550.6" x2="2063.5" y2="620.6" stroke="#b0b0b0" stroke-width="1.3"/>
<line x1="2000.5" y1="541.4" x2="2000.5" y2="613.9" stroke="#000" stroke-width="5.2"/><line x1="2000.5" y1="542.4" x2="2000.5" y2="612.4" stroke="#b0b0b0" stroke-width="1.3"/>
<line x1="1937.5" y1="549.6" x2="1937.5" y2="622.1" stroke="#000" stroke-width="5.2"/><line x1="1937.5" y1="550.6" x2="1937.5" y2="620.6" stroke="#b0b0b0" stroke-width="1.3"/>
<line x1="1886.9" y1="572.7" x2="1886.9" y2="645.2" stroke="#000" stroke-width="5.2"/><line x1="1886.9" y1="573.7" x2="1886.9" y2="643.7" stroke="#b0b0b0" stroke-width="1.3"/>
<line x1="1858.8" y1="605.9" x2="1858.8" y2="678.4" stroke="#000" stroke-width="5.2"/><line x1="1858.8" y1="606.9" x2="1858.8" y2="676.9" stroke="#b0b0b0" stroke-width="1.3"/>
<path d="M1855,658.4 L1855.5,651.4 L1857.1,644.5 L1859.6,637.6 L1863.2,630.9 L1867.8,624.4 L1873.2,618.2 L1879.6,612.2 L1886.9,606.5 L1895,601.3 L1903.8,596.4 L1913.3,592 L1923.4,588 L1934.1,584.6 L1945.2,581.6 L1956.7,579.2 L1968.6,577.4 L1980.7,576.2 L1992.9,575.5 L2005.2,575.4 L2017.4,576 L2029.5,577.1 L2041.4,578.7 L2053,581 L2064.3,583.8" fill="none" stroke="#000" stroke-width="5.6" stroke-linecap="round"/><path d="M1855,658.4 L1855.5,651.4 L1857.1,644.5 L1859.6,637.6 L1863.2,630.9 L1867.8,624.4 L1873.2,618.2 L1879.6,612.2 L1886.9,606.5 L1895,601.3 L1903.8,596.4 L1913.3,592 L1923.4,588 L1934.1,584.6 L1945.2,581.6 L1956.7,579.2 L1968.6,577.4 L1980.7,576.2 L1992.9,575.5 L2005.2,575.4 L2017.4,576 L2029.5,577.1 L2041.4,578.7 L2053,581 L2064.3,583.8" fill="none" stroke="#e8e8e8" stroke-width="1" stroke-linecap="round"/>
<path d="M1855,624.4 L1855.5,617.6 L1857,610.8 L1859.4,604.1 L1862.8,597.6 L1867.1,591.2 L1872.3,585.1 L1878.4,579.2 L1885.3,573.7 L1893,568.5 L1901.4,563.6 L1910.5,559.2 L1920.2,555.2 L1930.4,551.7 L1941.1,548.6 L1952.2,546.1 L1963.7,544.1 L1975.3,542.7 L1987.2,541.7 L1999.1,541.4 L2011.1,541.6 L2022.9,542.4 L2034.7,543.7 L2046.2,545.6 L2057.4,548 Q2076.5,560.4 2079.7,574.4 L2079.7,614.4" fill="none" stroke="#000" stroke-width="6.2" stroke-linecap="round"/><path d="M1855,624.4 L1855.5,617.6 L1857,610.8 L1859.4,604.1 L1862.8,597.6 L1867.1,591.2 L1872.3,585.1 L1878.4,579.2 L1885.3,573.7 L1893,568.5 L1901.4,563.6 L1910.5,559.2 L1920.2,555.2 L1930.4,551.7 L1941.1,548.6 L1952.2,546.1 L1963.7,544.1 L1975.3,542.7 L1987.2,541.7 L1999.1,541.4 L2011.1,541.6 L2022.9,542.4 L2034.7,543.7 L2046.2,545.6 L2057.4,548 Q2076.5,560.4 2079.7,574.4 L2079.7,614.4" fill="none" stroke="#e8e8e8" stroke-width="1.1" stroke-linecap="round"/>
<g transform="translate(2112.5,570)" fill="none" stroke="#000" stroke-linecap="round"><line x1="-13.7" y1="-14" x2="-13.7" y2="52" stroke-width="4.6"/><line x1="-13.7" y1="-14" x2="-13.7" y2="52" stroke="#ddd" stroke-width="1.4"/><line x1="17.8" y1="-12" x2="17.8" y2="70" stroke-width="4.6"/><line x1="17.8" y1="-12" x2="17.8" y2="70" stroke="#ddd" stroke-width="1.4"/><line x1="28.6" y1="6" x2="28.6" y2="110" stroke-width="4.6"/><line x1="28.6" y1="6" x2="28.6" y2="110" stroke="#ddd" stroke-width="1.4"/><line x1="-32.8" y1="4" x2="-32.8" y2="46" stroke-width="4.6"/><line x1="-32.8" y1="4" x2="-32.8" y2="46" stroke="#fff" stroke-width="1.4"/><path d="M-32,-0 L-31.5,-3.3 L-29.9,-6.4 L-27.4,-9.3 L-23.9,-12 L-19.7,-14.2 L-14.8,-16 L-9.4,-17.2 L-3.7,-17.9 L2.1,-18 L7.8,-17.5 L13.3,-16.4 L18.4,-14.7 L22.8,-12.6 L26.5,-10.1 L29.3,-7.2 L31.1,-4.2 L32,-0.9 L31.7,2.3 L30.4,5.5 L28.2,8.5 L25,11.3 L20.9,13.6 L16.2,15.5 L10.9,16.9" stroke-width="5"/><path d="M-32,-0 L-31.5,-3.3 L-29.9,-6.4 L-27.4,-9.3 L-23.9,-12 L-19.7,-14.2 L-14.8,-16 L-9.4,-17.2 L-3.7,-17.9 L2.1,-18 L7.8,-17.5 L13.3,-16.4 L18.4,-14.7 L22.8,-12.6 L26.5,-10.1 L29.3,-7.2 L31.1,-4.2 L32,-0.9 L31.7,2.3 L30.4,5.5 L28.2,8.5 L25,11.3 L20.9,13.6 L16.2,15.5 L10.9,16.9" stroke="#fff" stroke-width="1.6"/><path d="M-32,46.4 L-31.3,43.3 L-29.7,40.3 L-27.2,37.5 L-23.9,35 L-19.9,32.9 L-15.3,31.2 L-10.2,29.9 L-4.8,29.2 L0.7,29 L6.2,29.3 L11.5,30.2 L16.5,31.6 L21,33.4 L24.8,35.6 L27.9,38.2 L30.2,41 L31.6,44.1 L32,47.2 L31.5,50.3 L30,53.3 L27.6,56.1 L24.5,58.6 L20.5,60.8 L16,62.6" stroke-width="5"/><path d="M-32,46.4 L-31.3,43.3 L-29.7,40.3 L-27.2,37.5 L-23.9,35 L-19.9,32.9 L-15.3,31.2 L-10.2,29.9 L-4.8,29.2 L0.7,29 L6.2,29.3 L11.5,30.2 L16.5,31.6 L21,33.4 L24.8,35.6 L27.9,38.2 L30.2,41 L31.6,44.1 L32,47.2 L31.5,50.3 L30,53.3 L27.6,56.1 L24.5,58.6 L20.5,60.8 L16,62.6" stroke="#fff" stroke-width="1.6"/><line x1="1.8" y1="3" x2="1.8" y2="73" stroke-width="4.2"/><line x1="1.8" y1="3" x2="1.8" y2="73" stroke="#bbb" stroke-width="1.2"/><path d="M1,2 Q10,8 12.5,20 L12.5,100" stroke-width="4.6"/><path d="M22,30 L22,104 M33,50 L33,112" stroke-width="3"/></g>
<g transform="translate(1938,668)"><rect x="-2.2" y="6" width="4.4" height="13" fill="#fff" stroke="#000" stroke-width="1.8"/><path d="M-8.4,-3 L-8.4,5 A8.4,3.4 0 0 0 8.4,5 L8.4,-3 Z" fill="#f4f4f4" stroke="#000" stroke-width="2"/><ellipse cx="0" cy="-3" rx="8.4" ry="3.6" fill="#fff" stroke="#000" stroke-width="2"/></g>
<g transform="translate(2090,652)"><path d="M-9,8 L-9,22 A9,4.4 0 0 0 9,22 L9,8 Z" fill="#eee" stroke="#000" stroke-width="2"/><path d="M-9,16 A9,4.4 0 0 0 9,16" fill="none" stroke="#000" stroke-width="1.6"/><path d="M-17.5,0 L-17.5,9 A17.5,7.6 0 0 0 17.5,9 L17.5,0 Z" fill="url(#gFil)" stroke="#000" stroke-width="2.4"/><ellipse cx="0" cy="0" rx="17.5" ry="7.6" fill="#fff" stroke="#000" stroke-width="2.4"/><ellipse cx="0" cy="-1" rx="11" ry="4.8" fill="#fff" stroke="#000" stroke-width="2"/><path d="M-11,-1 L-11,-4 A11,4.8 0 0 1 11,-4 L11,-1" fill="#fff" stroke="#000" stroke-width="2"/></g>
<ellipse cx="2014.5" cy="627" rx="35.2" ry="20" fill="#fff" stroke="#000" stroke-width="3"/>
<path d="M1984.1,524.5 L1984.1,621.5 A30.4,17.3 0 0 0 2044.9,621.5 L2044.9,524.5 Z" fill="url(#gFil)" stroke="#000" stroke-width="3"/>
<ellipse cx="2014.5" cy="524.5" rx="30.4" ry="17.3" fill="#fff" stroke="#000" stroke-width="3"/>
<ellipse cx="2014.5" cy="524.5" rx="26.5" ry="14" fill="url(#pFilt)" stroke="none"/>
<g transform="translate(2038.5,556)"><path d="M-8,-6 L16,-16 L20,-8 L-4,4 Z" fill="#fff" stroke="#000" stroke-width="2.2" stroke-linejoin="round"/><path d="M-2,-15 L10,-20 L14,-12 L2,-7 Z" fill="#222" stroke="#000" stroke-width="2"/><path d="M-14,4 L-4,-2 L0,6 L-2,14 L-12,15 Z" fill="#fff" stroke="#000" stroke-width="2.2" stroke-linejoin="round"/><path d="M-18,5 L-12,3" stroke="#000" stroke-width="3"/><circle cx="16" cy="-14" r="3" fill="#000"/></g>
<line x1="2000.5" y1="707.4" x2="2000.5" y2="779.9" stroke="#000" stroke-width="5.2"/><line x1="2000.5" y1="708.4" x2="2000.5" y2="778.4" stroke="#b0b0b0" stroke-width="1.3"/>
<line x1="2063.5" y1="699.2" x2="2063.5" y2="771.7" stroke="#000" stroke-width="5.2"/><line x1="2063.5" y1="700.2" x2="2063.5" y2="770.2" stroke="#b0b0b0" stroke-width="1.3"/>
<line x1="2114.1" y1="676.1" x2="2114.1" y2="748.6" stroke="#000" stroke-width="5.2"/><line x1="2114.1" y1="677.1" x2="2114.1" y2="747.1" stroke="#b0b0b0" stroke-width="1.3"/>
<line x1="2142.2" y1="642.9" x2="2142.2" y2="715.4" stroke="#000" stroke-width="5.2"/><line x1="2142.2" y1="643.9" x2="2142.2" y2="713.9" stroke="#b0b0b0" stroke-width="1.3"/>
<line x1="1858.8" y1="642.9" x2="1858.8" y2="715.4" stroke="#000" stroke-width="5.2"/><line x1="1858.8" y1="643.9" x2="1858.8" y2="713.9" stroke="#b0b0b0" stroke-width="1.3"/>
<line x1="1886.9" y1="676.1" x2="1886.9" y2="748.6" stroke="#000" stroke-width="5.2"/><line x1="1886.9" y1="677.1" x2="1886.9" y2="747.1" stroke="#b0b0b0" stroke-width="1.3"/>
<line x1="1937.5" y1="699.2" x2="1937.5" y2="771.7" stroke="#000" stroke-width="5.2"/><line x1="1937.5" y1="700.2" x2="1937.5" y2="770.2" stroke="#b0b0b0" stroke-width="1.3"/>
<path d="M1855,658.4 L1856.2,669.2 L1860,679.9 L1866.1,690.2 L1874.5,699.9 L1885.1,708.9 L1897.6,717.1 L1911.9,724.2 L1927.8,730.3 L1944.8,735.1 L1962.8,738.6 L1981.5,740.7 L2000.5,741.4 L2019.5,740.7 L2038.2,738.6 L2056.2,735.1 L2073.2,730.3 L2089.1,724.2 L2103.4,717.1 L2115.9,708.9 L2126.5,699.9 L2134.9,690.2 L2141,679.9 L2144.8,669.2 L2146,658.4" fill="none" stroke="#000" stroke-width="5.6" stroke-linecap="round"/><path d="M1855,658.4 L1856.2,669.2 L1860,679.9 L1866.1,690.2 L1874.5,699.9 L1885.1,708.9 L1897.6,717.1 L1911.9,724.2 L1927.8,730.3 L1944.8,735.1 L1962.8,738.6 L1981.5,740.7 L2000.5,741.4 L2019.5,740.7 L2038.2,738.6 L2056.2,735.1 L2073.2,730.3 L2089.1,724.2 L2103.4,717.1 L2115.9,708.9 L2126.5,699.9 L2134.9,690.2 L2141,679.9 L2144.8,669.2 L2146,658.4" fill="none" stroke="#e8e8e8" stroke-width="1" stroke-linecap="round"/>
<path d="M1855,624.4 L1856.2,635.2 L1860,645.9 L1866.1,656.2 L1874.5,665.9 L1885.1,674.9 L1897.6,683.1 L1911.9,690.2 L1927.8,696.3 L1944.8,701.1 L1962.8,704.6 L1981.5,706.7 L2000.5,707.4 L2019.5,706.7 L2038.2,704.6 L2056.2,701.1 L2073.2,696.3 L2089.1,690.2 L2103.4,683.1 L2115.9,674.9 L2126.5,665.9 L2134.9,656.2 L2141,645.9 L2144.8,635.2 L2146,624.4" fill="none" stroke="#000" stroke-width="6.2" stroke-linecap="round"/><path d="M1855,624.4 L1856.2,635.2 L1860,645.9 L1866.1,656.2 L1874.5,665.9 L1885.1,674.9 L1897.6,683.1 L1911.9,690.2 L1927.8,696.3 L1944.8,701.1 L1962.8,704.6 L1981.5,706.7 L2000.5,707.4 L2019.5,706.7 L2038.2,704.6 L2056.2,701.1 L2073.2,696.3 L2089.1,690.2 L2103.4,683.1 L2115.9,674.9 L2126.5,665.9 L2134.9,656.2 L2141,645.9 L2144.8,635.2 L2146,624.4" fill="none" stroke="#e8e8e8" stroke-width="1.1" stroke-linecap="round"/>
<path d="M2113.5,572.4 Q2128.5,584.4 2136.5,600.4 Q2145.5,616.4 2146,630.4" fill="none" stroke="#000" stroke-width="5" stroke-linecap="round"/>
<g transform="translate(2140.8,771) scale(1)"><path d="M1,-3.4 L13,1 L11,7.4 L-1,3 Q-3,-1 1,-3.4 Z" fill="#fff" stroke="#000" stroke-width="2" stroke-linejoin="round"/><path d="M14,0 L31,6 L28,19 L11,12.4 Z" fill="#f4f4f4" stroke="#000" stroke-width="2.4" stroke-linejoin="round"/><ellipse cx="12.4" cy="6" rx="3" ry="6.6" transform="rotate(18 12.4 6)" fill="#fff" stroke="#000" stroke-width="3"/><ellipse cx="17" cy="7.6" rx="3" ry="6.6" transform="rotate(18 17 7.6)" fill="#fff" stroke="#000" stroke-width="3"/><ellipse cx="29.6" cy="12.4" rx="4.6" ry="7" transform="rotate(18 29.6 12.4)" fill="#fff" stroke="#000" stroke-width="2.8"/><ellipse cx="30" cy="12.6" rx="2" ry="3.8" transform="rotate(18 30 12.6)" fill="#fff" stroke="#000" stroke-width="1.4"/></g>
<g transform="translate(2041.5,1201) scale(1)"><path d="M1,-3.4 L13,1 L11,7.4 L-1,3 Q-3,-1 1,-3.4 Z" fill="#fff" stroke="#000" stroke-width="2" stroke-linejoin="round"/><path d="M14,0 L31,6 L28,19 L11,12.4 Z" fill="#f4f4f4" stroke="#000" stroke-width="2.4" stroke-linejoin="round"/><ellipse cx="12.4" cy="6" rx="3" ry="6.6" transform="rotate(18 12.4 6)" fill="#fff" stroke="#000" stroke-width="3"/><ellipse cx="17" cy="7.6" rx="3" ry="6.6" transform="rotate(18 17 7.6)" fill="#fff" stroke="#000" stroke-width="3"/><ellipse cx="29.6" cy="12.4" rx="4.6" ry="7" transform="rotate(18 29.6 12.4)" fill="#fff" stroke="#000" stroke-width="2.8"/><ellipse cx="30" cy="12.6" rx="2" ry="3.8" transform="rotate(18 30 12.6)" fill="#fff" stroke="#000" stroke-width="1.4"/></g>
<g transform="translate(1976.5,1222.6) scale(1.1)"><path d="M-5,-9.6 L4,-8.4 L9,-1 L8,4.6 L4,1 Z" fill="#fff" stroke="#000" stroke-width="1.8" stroke-linejoin="round"/><path d="M-5,-4 L3,-6 L7,1 L1,5 L-3,10 L-9,7 L-9,0 Z" fill="#9a9a9a" stroke="#000" stroke-width="1.6" stroke-linejoin="round"/><ellipse cx="-5" cy="4" rx="3.6" ry="4.4" fill="#ddd" stroke="#000" stroke-width="1.6" stroke-dasharray="1.5 1"/></g>
<g transform="translate(2000.5,1295)"><ellipse cx="9" cy="17" rx="14" ry="7" fill="#fff" stroke="#000" stroke-width="2.6"/><path d="M-45.3,10.7 L-20.8,1.1 L27.2,-0.5 L28.4,5.5 L-25,36.4 L-31,34 Z" fill="#1c1c1c" stroke="#000" stroke-width="2.6" stroke-linejoin="round"/><path d="M-37,12.4 L-20,5.4 L-4,9 L-24,23 Z" fill="#b8b8b8" stroke="none"/><path d="M-40,10.4 L-20,2.6 M-23,13 L-10,18 M-6,20 L12,11" stroke="#fff" stroke-width="1.6" stroke-dasharray="1.4 3" fill="none"/><path d="M-25,36.4 L28.4,5.5" stroke="#000" stroke-width="3.6" fill="none"/><path d="M-27,33 L26,2.6" stroke="#fff" stroke-width="1" fill="none"/><ellipse cx="0" cy="-3.6" rx="21.3" ry="9" fill="none" stroke="#000" stroke-width="5"/><ellipse cx="0" cy="-5" rx="17" ry="6.4" fill="none" stroke="#000" stroke-width="1.6"/><ellipse cx="-44.2" cy="26.6" rx="10.6" ry="15" transform="rotate(-18 -44.2 26.6)" fill="#fff" stroke="#000" stroke-width="6.6"/><path d="M-50,13 L-38,40 M-55,31 L-33,22" stroke="#000" stroke-width="4.6"/><ellipse cx="-44.2" cy="26.6" rx="4" ry="5" fill="#000"/><path d="M-33,17 L-27,35" stroke="#000" stroke-width="5.4"/></g>
<path d="M1998,1329 L2003,1329 L2003,1346 L2006.5,1344.5 L2000.5,1358 L1994.5,1344.5 L1998,1346 Z" fill="#000"/>
<path d="M1998,1373 L2003,1373 L2003,1390 L2006.5,1388.5 L2000.5,1402 L1994.5,1388.5 L1998,1390 Z" fill="#000"/>
<path d="M1585,668 L1650,645 L1714,636 Q1720,635 1726,635 L1974.5,640.4 C1991.4,640.7 2000.5,650.8 2000.5,666.4 L2000.5,681" stroke="#000" stroke-width="9.4" fill="none" stroke-linejoin="round"/>
<path d="M1585,668 L1650,645 L1714,636 Q1720,635 1726,635 L1974.5,640.4 C1991.4,640.7 2000.5,650.8 2000.5,666.4 L2000.5,681" stroke="#fff" stroke-width="5.2" fill="none" stroke-linejoin="round"/>
<ellipse cx="2000.5" cy="681" rx="10.6" ry="5.2" fill="#fff" stroke="#000" stroke-width="2.6"/>
<path d="M2000.5,672 L2000.5,680" stroke="#fff" stroke-width="5.2" fill="none"/>
<path d="M1996.8,672 L1996.8,681 M2004.2,672 L2004.2,681" stroke="#000" stroke-width="2.1" fill="none"/>
<rect x="1996.3" y="686" width="8.4" height="14" fill="#fff" stroke="#000" stroke-width="2.2"/>
<ellipse cx="563.6" cy="1233" rx="51.8" ry="23" fill="none" stroke="#000" stroke-width="2" />
<polygon points="448.5,1103.5 547.2,1259.5 547.2,1272 580,1272 580,1259.5 672.2,1103.5" fill="url(#gHop)"/>
<path d="M461.7,1125.4 L547.2,1259.5 L547.2,1272 M661.2,1123.2 L580,1259.5 L580,1272" stroke="#000" stroke-width="2.4" fill="none" />
<path d="M615.4,1233 A51.8,23 0 0 1 511.8,1233" stroke="#000" stroke-width="2" fill="none" />
<line x1="528" y1="1242" x2="540" y2="1236" stroke="#000" stroke-width="1.8" stroke-linecap="butt"/>
<line x1="563.6" y1="1243" x2="563.6" y2="1258" stroke="#000" stroke-width="1.8" stroke-linecap="butt"/>
<line x1="587" y1="1236" x2="602" y2="1243" stroke="#000" stroke-width="1.8" stroke-linecap="butt"/>
<path d="M448.5,993.9 C450,988 462,982.5 474.8,980.7 C487,978.7 502,978.4 514.3,979.6 C530,981 545,987 560.4,993.9 C575,986 588,981.5 600,980 C615,977.6 640,981 672.2,995 L672.2,1103.5 A111.8,51.5 0 0 1 448.5,1103.5 Z" fill="url(#gHop)" stroke="#000" stroke-width="2.6" stroke-linejoin="round"/>
<path d="M672.2,1106.5 A111.8,51.5 0 0 1 448.5,1106.5" stroke="#000" stroke-width="1.6" fill="none" />
<path d="M449.5,993.5 C452,987 465,982.6 476,981.2 C490,979.4 502,979 514.3,980.2 C530,982 546,988 559.5,994 C548,1003 528,1011 507.7,1012.3 C485,1013.5 462,1006 449.5,993.5 Z" fill="url(#gHatch)" stroke="#000" stroke-width="2.4"/>
<g transform="translate(531.8,1199) scale(0.9)"><path d="M-5,-9.6 L4,-8.4 L9,-1 L8,4.6 L4,1 Z" fill="#fff" stroke="#000" stroke-width="1.8" stroke-linejoin="round"/><path d="M-5,-4 L3,-6 L7,1 L1,5 L-3,10 L-9,7 L-9,0 Z" fill="#9a9a9a" stroke="#000" stroke-width="1.6" stroke-linejoin="round"/><ellipse cx="-5" cy="4" rx="3.6" ry="4.4" fill="#ddd" stroke="#000" stroke-width="1.6" stroke-dasharray="1.5 1"/></g>
<g transform="translate(613,1193) scale(0.8)"><path d="M1,-3.4 L13,1 L11,7.4 L-1,3 Q-3,-1 1,-3.4 Z" fill="#fff" stroke="#000" stroke-width="2" stroke-linejoin="round"/><path d="M14,0 L31,6 L28,19 L11,12.4 Z" fill="#f4f4f4" stroke="#000" stroke-width="2.4" stroke-linejoin="round"/><ellipse cx="12.4" cy="6" rx="3" ry="6.6" transform="rotate(18 12.4 6)" fill="#fff" stroke="#000" stroke-width="3"/><ellipse cx="17" cy="7.6" rx="3" ry="6.6" transform="rotate(18 17 7.6)" fill="#fff" stroke="#000" stroke-width="3"/><ellipse cx="29.6" cy="12.4" rx="4.6" ry="7" transform="rotate(18 29.6 12.4)" fill="#fff" stroke="#000" stroke-width="2.8"/><ellipse cx="30" cy="12.6" rx="2" ry="3.8" transform="rotate(18 30 12.6)" fill="#fff" stroke="#000" stroke-width="1.4"/></g>
<path d="M558.7,885.7 L562.3,885.7 L562.3,896.4 L565.1,894.9 L560.5,906.4 L555.9,894.9 L558.7,896.4 Z" fill="#000"/>
<path d="M558.7,923.3 L562.3,923.3 L562.3,934 L565.1,932.5 L560.5,944 L555.9,932.5 L558.7,934 Z" fill="#000"/>
<path d="M558.7,962.8 L562.3,962.8 L562.3,974.5 L565.1,973 L560.5,984.5 L555.9,973 L558.7,974.5 Z" fill="#000"/>
<path d="M610.4,1548 L610.4,1670 L624,1670 L624,1553 L614,1538 L603,1546 Z" fill="url(#gFil)" stroke="#000" stroke-width="2.2" stroke-linejoin="round"/>
<polygon points="606.7,1676 619,1669 632.4,1675 620,1682" fill="#fff" stroke="#000" stroke-width="2.2" stroke-linejoin="round" />
<polygon points="493.7,1509 546.3,1596.6 579.5,1596.6 631.7,1509" fill="url(#gHop)"/>
<path d="M618.7,1530 L579.5,1596.6 M508,1532 L546.3,1596.6" stroke="#000" stroke-width="2.2" fill="none" />
<line x1="545" y1="1586" x2="551" y2="1582.5" stroke="#000" stroke-width="1.8" stroke-linecap="butt"/>
<line x1="563.6" y1="1587" x2="563.6" y2="1594" stroke="#000" stroke-width="1.8" stroke-linecap="butt"/>
<line x1="575" y1="1582.5" x2="581" y2="1586" stroke="#000" stroke-width="1.8" stroke-linecap="butt"/>
<g transform="translate(584,1570) scale(0.7)"><path d="M-5,-9.6 L4,-8.4 L9,-1 L8,4.6 L4,1 Z" fill="#fff" stroke="#000" stroke-width="1.8" stroke-linejoin="round"/><path d="M-5,-4 L3,-6 L7,1 L1,5 L-3,10 L-9,7 L-9,0 Z" fill="#9a9a9a" stroke="#000" stroke-width="1.6" stroke-linejoin="round"/><ellipse cx="-5" cy="4" rx="3.6" ry="4.4" fill="#ddd" stroke="#000" stroke-width="1.6" stroke-dasharray="1.5 1"/></g>
<path d="M552,1612 C553,1632 562,1644 580,1648 L590,1630 C580,1628 576,1622 575,1612 Z" fill="#f0f0f0" stroke="#000" stroke-width="2.2"/>
<ellipse cx="563.2" cy="1607" rx="17.8" ry="6.4" fill="#222" stroke="#000" stroke-width="2"/>
<path d="M545.4,1598 L545.4,1604 A17.8,6.4 0 0 0 581,1604 L581,1598 Z" fill="#eee" stroke="#000" stroke-width="2"/>
<ellipse cx="563.2" cy="1598" rx="17.8" ry="6" fill="#fff" stroke="#000" stroke-width="2"/>
<path d="M493.7,1428.6 C493.7,1395 525,1372 563,1371.6 C601,1372 631.7,1395 631.7,1424 L631.7,1509 A69,25 0 0 1 493.7,1509 Z" fill="url(#gHop)" stroke="#000" stroke-width="2.6"/>
<path d="M493.7,1428.6 A69,24 0 0 0 631.7,1424" stroke="#000" stroke-width="2" fill="none" />
<path d="M528,1290 L548,1279 L586,1279.5 L588,1285 L545,1309 L538,1306 Z" fill="#fff" stroke="#000" stroke-width="2.8" stroke-linejoin="round"/>
<path d="M530,1289 L548,1279.5 M546,1296 L556,1300 M560,1301 L574,1294" stroke="#000" stroke-width="2.2" stroke-dasharray="1.6 2.6" fill="none"/>
<path d="M545,1309 L588,1285" stroke="#000" stroke-width="3.6"/>
<ellipse cx="564.1" cy="1278" rx="18" ry="7.6" fill="none" stroke="#000" stroke-width="4"/>
<path d="M550.3,1262 L550.3,1276 A14,5 0 0 0 578,1276 L578,1262 Z" fill="url(#gHop)" stroke="#000" stroke-width="2"/>
<ellipse cx="527" cy="1302.2" rx="9.6" ry="13" transform="rotate(-18 527 1302.2)" fill="#fff" stroke="#000" stroke-width="5.2"/>
<path d="M522,1291 L532,1314 M517,1306 L537,1298" stroke="#000" stroke-width="3.2"/>
<path d="M537,1296 L541,1310" stroke="#000" stroke-width="4.4"/>
<rect x="549.6" y="1296" width="28.4" height="84" fill="#fff" stroke="#000" stroke-width="2.4"/>
<path d="M561.4,1300 L567.4,1300 L567.4,1318 L571.4,1316.5 L564.4,1330 L557.4,1316.5 L561.4,1318 Z" fill="#000"/>
<ellipse cx="563.4" cy="1331.5" rx="22" ry="10" fill="#111" stroke="#000" stroke-width="2.4"/>
<ellipse cx="563.4" cy="1332.5" rx="17.5" ry="7.5" fill="none" stroke="#fff" stroke-width="2.2" stroke-dasharray="2.6 3.4"/>
<ellipse cx="563.4" cy="1323.5" rx="22" ry="10" fill="#111" stroke="#000" stroke-width="2.4"/>
<ellipse cx="563.4" cy="1323.5" rx="18" ry="7.4" fill="none" stroke="#fff" stroke-width="2.2" stroke-dasharray="2.6 3.4"/>
<g transform="translate(554.6,1352.2) rotate(-28)"><rect x="0" y="-8" width="46" height="16" rx="3" fill="#fff" stroke="#000" stroke-width="3.2"/><path d="M9,-2.6 L31,-2.6 M9,3 L31,3" stroke="#000" stroke-width="2.4"/><rect x="33" y="-8.5" width="13" height="17" rx="3" fill="#fff" stroke="#000" stroke-width="3.2"/><ellipse cx="45" cy="0" rx="3.4" ry="6.5" fill="#fff" stroke="#000" stroke-width="2.6"/><path d="M2,-5 l5,3 l-4,3 l5,3" stroke="#000" stroke-width="2.4" fill="none"/></g>
<ellipse cx="563.4" cy="1372" rx="22" ry="10" fill="#111" stroke="#000" stroke-width="2.4"/>
<ellipse cx="563.4" cy="1373" rx="17.5" ry="7.5" fill="none" stroke="#fff" stroke-width="2.2" stroke-dasharray="2.6 3.4"/>
<ellipse cx="563.4" cy="1364" rx="22" ry="10" fill="#111" stroke="#000" stroke-width="2.4"/>
<ellipse cx="563.4" cy="1364" rx="18" ry="7.4" fill="none" stroke="#fff" stroke-width="2.2" stroke-dasharray="2.6 3.4"/>
<g transform="translate(531.5,1376) rotate(32)"><rect x="0" y="-8" width="46" height="16" rx="3" fill="#fff" stroke="#000" stroke-width="3.2"/><path d="M9,-2.6 L31,-2.6 M9,3 L31,3" stroke="#000" stroke-width="2.4"/><rect x="33" y="-8.5" width="13" height="17" rx="3" fill="#fff" stroke="#000" stroke-width="3.2"/><ellipse cx="45" cy="0" rx="3.4" ry="6.5" fill="#fff" stroke="#000" stroke-width="2.6"/><path d="M2,-5 l5,3 l-4,3 l5,3" stroke="#000" stroke-width="2.4" fill="none"/></g>
<rect x="502.5" y="1568" width="14.3" height="104" fill="url(#gFil)" stroke="#000" stroke-width="2.2"/>
<path d="M502.5,1570 L510,1545 L522,1550 L516.8,1570 Z" fill="#eee" stroke="#000" stroke-width="2"/>
<polygon points="493.4,1673.5 508,1666.5 525,1674 510,1682" fill="#fff" stroke="#000" stroke-width="2.4" stroke-linejoin="round" />
<rect x="502.5" y="1650" width="14.3" height="23" fill="url(#gFil)" stroke="none"/>
<path d="M502.5,1650 L502.5,1673 M516.8,1650 L516.8,1673" stroke="#000" stroke-width="2.2" fill="none" />
<polygon points="596,1466 612,1461 612,1474 596,1479" fill="#ddd" stroke="#000" stroke-width="1.8" stroke-linejoin="round" />
<path d="M612,1461 L615,1464 L615,1472 L612,1474" stroke="#000" stroke-width="1.6" fill="none" />
<path d="M591,1399 Q600,1392 607,1398 Q614,1399 614.5,1405 Q615,1411 608,1413 Q604,1419 597,1417 Q589,1412 591,1399 Z" fill="#0a0a0a" stroke="#000" stroke-width="2"/>
<ellipse cx="522.5" cy="1391" rx="4.6" ry="7.4" transform="rotate(12 522.5 1391)" fill="#fff" stroke="#000" stroke-width="3.6"/>
<rect x="520.5" y="1398" width="4.4" height="9" fill="#fff" stroke="#000" stroke-width="1.6"/>
<rect x="521.5" y="1418" width="7.6" height="10" rx="2" fill="#fff" stroke="#000" stroke-width="2"/>
<rect x="523.4" y="1428" width="3.6" height="6" fill="#fff" stroke="#000" stroke-width="1.4"/>
<path d="M569.3,1434 L569.3,1426 Q568,1417 558,1420 Q544,1424 544,1438 L544,1566 Q544,1572 537,1572" stroke="#000" stroke-width="5.4" fill="none" stroke-linejoin="round"/>
<path d="M569.3,1434 L569.3,1426 Q568,1417 558,1420 Q544,1424 544,1438 L544,1566 Q544,1572 537,1572" stroke="#fff" stroke-width="2.4" fill="none" stroke-linejoin="round"/>
<rect x="566.3" y="1432" width="6" height="8" fill="#111"/>
<polygon points="476,1445 490.3,1437.4 537.5,1461.5 521,1470.3" fill="#fff" stroke="#000" stroke-width="2.2" stroke-linejoin="round" />
<polygon points="521,1470.3 537.5,1461.5 537.5,1527.3 521,1536" fill="#e8e8e8" stroke="#000" stroke-width="2.2" stroke-linejoin="round" />
<polygon points="476,1445 521,1470.3 521,1536 476,1512" fill="url(#gBox)" stroke="#000" stroke-width="2.6" stroke-linejoin="round" />
<ellipse cx="484" cy="1474" rx="2.1" ry="2.6" fill="#111"/>
<ellipse cx="493.4" cy="1479" rx="2.1" ry="2.6" fill="#111"/>
<ellipse cx="484" cy="1482.2" rx="2.1" ry="2.6" fill="#111"/>
<ellipse cx="493.4" cy="1487.2" rx="2.1" ry="2.6" fill="#111"/>
<ellipse cx="502.8" cy="1492.2" rx="2.1" ry="2.6" fill="#111"/>
<ellipse cx="512.2" cy="1497.2" rx="2.1" ry="2.6" fill="#111"/>
<ellipse cx="484" cy="1490.4" rx="2.1" ry="2.6" fill="#111"/>
<ellipse cx="493.4" cy="1495.4" rx="2.1" ry="2.6" fill="#111"/>
<ellipse cx="502.8" cy="1500.4" rx="2.1" ry="2.6" fill="#111"/>
<ellipse cx="512.2" cy="1505.4" rx="2.1" ry="2.6" fill="#111"/>
<ellipse cx="484" cy="1498.6" rx="2.1" ry="2.6" fill="#111"/>
<ellipse cx="493.4" cy="1503.6" rx="2.1" ry="2.6" fill="#111"/>
<ellipse cx="502.8" cy="1508.6" rx="2.1" ry="2.6" fill="#111"/>
<ellipse cx="512.2" cy="1513.6" rx="2.1" ry="2.6" fill="#111"/>
<ellipse cx="493.4" cy="1511.8" rx="2.1" ry="2.6" fill="#111"/>
<ellipse cx="502.8" cy="1516.8" rx="2.1" ry="2.6" fill="#111"/>
<ellipse cx="512.2" cy="1521.8" rx="2.1" ry="2.6" fill="#111"/>
<circle cx="518" cy="1474.5" r="1.6" fill="#111"/><circle cx="518" cy="1530" r="1.6" fill="#111"/>
<path d="M458,1531 L478,1541 L500,1552 L535,1568" stroke="#000" stroke-width="7" fill="none"/>
<path d="M470,1537 L498,1551" stroke="#fff" stroke-width="3" fill="none"/>
<path d="M470,1538 q6,-5 12,2 l0,14 q-3,6 -6,0 Z" fill="#fff" stroke="#000" stroke-width="2.2"/>
<path d="M483,1544 q6,-5 12,2 l0,10 l-10,-2 Z" fill="#fff" stroke="#000" stroke-width="2.2"/>
<ellipse cx="461" cy="1533" rx="3" ry="5" fill="#111"/>
<path d="M497,1547 L506,1543 L520,1548 L537,1558 L536,1572 L520,1576 L503,1570 L494,1560 Z" fill="#111" stroke="#000" stroke-width="2"/>
<path d="M508,1553 l6,3 M520,1560 l6,3" stroke="#fff" stroke-width="1.6"/>
<path d="M520,1572 Q538,1580 538.7,1594 L538.7,1640 Q539,1652 551,1658 L584,1675 Q590,1678 597,1674 L618.7,1662" stroke="#000" stroke-width="5.6" fill="none" stroke-linejoin="round"/>
<path d="M520,1572 Q538,1580 538.7,1594 L538.7,1640 Q539,1652 551,1658 L584,1675 Q590,1678 597,1674 L618.7,1662" stroke="#fff" stroke-width="2.6" fill="none" stroke-linejoin="round"/>
<path d="M580,1640 L600,1652 L606,1642 L588,1630 Z" fill="#fff" stroke="#000" stroke-width="2.4"/>
<ellipse cx="586" cy="1640" rx="6" ry="10" transform="rotate(-28 586 1640)" fill="#fff" stroke="#000" stroke-width="4"/>
<ellipse cx="596" cy="1648" rx="6" ry="10" transform="rotate(-28 596 1648)" fill="#fff" stroke="#000" stroke-width="4"/>
<ellipse cx="606" cy="1652" rx="4.6" ry="8" transform="rotate(-28 606 1652)" fill="#fff" stroke="#000" stroke-width="3"/>
<path d="M585,1620 L612,1633 L616,1626 L590,1613 Z" fill="#fff" stroke="#000" stroke-width="3" stroke-linejoin="round"/>
<path d="M588,1626 L611,1638 L617,1633 L617,1642 L610,1646 L586,1634 Z" fill="#222" stroke="#000" stroke-width="2"/>
<path d="M612,1653 L650,1672.7" stroke="#000" stroke-width="9.8" fill="none" stroke-linejoin="round"/>
<path d="M612,1653 L650,1672.7" stroke="#fff" stroke-width="5.6" fill="none" stroke-linejoin="round"/>
<rect x="232.5" y="1548" width="6.4" height="17" fill="#fff" stroke="#000" stroke-width="1.8"/>
<ellipse cx="235.7" cy="1567.5" rx="8" ry="3" fill="#111"/>
<rect x="270" y="1548" width="6.4" height="17" fill="#fff" stroke="#000" stroke-width="1.8"/>
<ellipse cx="273.2" cy="1567.5" rx="8" ry="3" fill="#111"/>
<path d="M225,1426 C225,1408 238,1399 254.8,1398.4 C272,1399 284.6,1408 284.6,1426 L284.6,1540 Q284.6,1554 254.8,1554 Q225,1554 225,1540 Z" fill="url(#gTank)" stroke="#000" stroke-width="2.4"/>
<path d="M225,1426 Q254.8,1440 284.6,1426" stroke="#888" stroke-width="1.2" fill="none" />
<path d="M249,1392 l6,0 l0,12 l-6,0 Z" fill="#111"/><ellipse cx="252" cy="1392" rx="5" ry="4.4" fill="#fff" stroke="#000" stroke-width="2.6"/>
<circle cx="232" cy="1523.6" r="3.6" fill="#111"/>
<path d="M1586,1882 Q1565,1888 1552,1897 Q1540,1903.2 1520,1903.2 L486,1903.2 Q462,1903 440,1889.5 L168,1731 Q145.1,1717 145.1,1692 L145.1,1600 Q145.1,1574 166,1560 L231,1523" stroke="#000" stroke-width="2.4" fill="none" />
<path d="M284.6,1455 Q305,1452 325,1462 L458,1532" stroke="#000" stroke-width="2.2" fill="none" />
<path d="M1670.5,1794 Q1690,1780 1693,1795 L1697,1815 Q1700,1826 1712,1820 L1766,1778" stroke="#000" stroke-width="2.2" fill="none" />
<polygon points="1725.3,1663.3 1811.9,1712.7 1811.9,1811.4 1725.3,1762" fill="url(#gFaceL)" stroke="#000" stroke-width="2.4" stroke-linejoin="round" />
<polygon points="1811.9,1712.7 1913.9,1654.6 1913.9,1753.3 1811.9,1811.4" fill="url(#gFaceR)" stroke="#000" stroke-width="2.4" stroke-linejoin="round" />
<polygon points="1725.3,1663.3 1827.3,1606.3 1913.9,1654.6 1811.9,1712.7" fill="url(#gFaceT)" stroke="#000" stroke-width="2.4" stroke-linejoin="round" />
<path d="M1725.3,1746.7 L1811.9,1796.1 L1913.9,1738" stroke="#000" stroke-width="1.8" fill="none" />
<path d="M1738.1,1688.5 l6.8,3.1 M1738.1,1691.7 l6.8,3.1 M1738.1,1694.9 l6.8,3.1 M1738.1,1698.1 l6.8,3.1 M1738.1,1701.3 l6.8,3.1 M1738.1,1704.5 l6.8,3.1 M1738.1,1707.7 l6.8,3.1 M1738.1,1710.9 l6.8,3.1 M1738.1,1714.1 l6.8,3.1 M1738.1,1717.3 l6.8,3.1 M1738.1,1720.5 l6.8,3.1 M1738.1,1723.7 l6.8,3.1 M1738.1,1726.9 l6.8,3.1 M1738.1,1730.1 l6.8,3.1 M1738.1,1733.3 l6.8,3.1 M1748.7,1694.5 l6.8,3.1 M1748.7,1697.7 l6.8,3.1 M1748.7,1700.9 l6.8,3.1 M1748.7,1704.1 l6.8,3.1 M1748.7,1707.3 l6.8,3.1 M1748.7,1710.5 l6.8,3.1 M1748.7,1713.7 l6.8,3.1 M1748.7,1716.9 l6.8,3.1 M1748.7,1720.1 l6.8,3.1 M1748.7,1723.3 l6.8,3.1 M1748.7,1726.5 l6.8,3.1 M1748.7,1729.7 l6.8,3.1 M1748.7,1732.9 l6.8,3.1 M1748.7,1736.1 l6.8,3.1 M1748.7,1739.3 l6.8,3.1 M1759.3,1700.5 l6.8,3.1 M1759.3,1703.7 l6.8,3.1 M1759.3,1706.9 l6.8,3.1 M1759.3,1710.1 l6.8,3.1 M1759.3,1713.3 l6.8,3.1 M1759.3,1716.5 l6.8,3.1 M1759.3,1719.7 l6.8,3.1 M1759.3,1722.9 l6.8,3.1 M1759.3,1726.1 l6.8,3.1 M1759.3,1729.3 l6.8,3.1 M1759.3,1732.5 l6.8,3.1 M1759.3,1735.7 l6.8,3.1 M1759.3,1738.9 l6.8,3.1 M1759.3,1742.1 l6.8,3.1 M1759.3,1745.3 l6.8,3.1 M1769.9,1706.5 l6.8,3.1 M1769.9,1709.7 l6.8,3.1 M1769.9,1712.9 l6.8,3.1 M1769.9,1716.1 l6.8,3.1 M1769.9,1719.3 l6.8,3.1 M1769.9,1722.5 l6.8,3.1 M1769.9,1725.7 l6.8,3.1 M1769.9,1728.9 l6.8,3.1 M1769.9,1732.1 l6.8,3.1 M1769.9,1735.3 l6.8,3.1 M1769.9,1738.5 l6.8,3.1 M1769.9,1741.7 l6.8,3.1 M1769.9,1744.9 l6.8,3.1 M1769.9,1748.1 l6.8,3.1 M1769.9,1751.3 l6.8,3.1 M1780.5,1712.5 l6.8,3.1 M1780.5,1715.7 l6.8,3.1 M1780.5,1718.9 l6.8,3.1 M1780.5,1722.1 l6.8,3.1 M1780.5,1725.3 l6.8,3.1 M1780.5,1728.5 l6.8,3.1 M1780.5,1731.7 l6.8,3.1 M1780.5,1734.9 l6.8,3.1 M1780.5,1738.1 l6.8,3.1 M1780.5,1741.3 l6.8,3.1 M1780.5,1744.5 l6.8,3.1 M1780.5,1747.7 l6.8,3.1 M1780.5,1750.9 l6.8,3.1 M1780.5,1754.1 l6.8,3.1 M1780.5,1757.3 l6.8,3.1 M1791.1,1718.5 l6.8,3.1 M1791.1,1721.7 l6.8,3.1 M1791.1,1724.9 l6.8,3.1 M1791.1,1728.1 l6.8,3.1 M1791.1,1731.3 l6.8,3.1 M1791.1,1734.5 l6.8,3.1 M1791.1,1737.7 l6.8,3.1 M1791.1,1740.9 l6.8,3.1 M1791.1,1744.1 l6.8,3.1 M1791.1,1747.3 l6.8,3.1 M1791.1,1750.5 l6.8,3.1 M1791.1,1753.7 l6.8,3.1 M1791.1,1756.9 l6.8,3.1 M1791.1,1760.1 l6.8,3.1 M1791.1,1763.3 l6.8,3.1" stroke="#000" stroke-width="2.5" stroke-linecap="round" fill="none"/>
<path d="M1823.1,1726.5 l6.8,-3.1 M1823.1,1729.7 l6.8,-3.1 M1823.1,1732.9 l6.8,-3.1 M1823.1,1736.1 l6.8,-3.1 M1823.1,1739.3 l6.8,-3.1 M1823.1,1742.5 l6.8,-3.1 M1823.1,1745.7 l6.8,-3.1 M1823.1,1748.9 l6.8,-3.1 M1823.1,1752.1 l6.8,-3.1 M1823.1,1755.3 l6.8,-3.1 M1823.1,1758.5 l6.8,-3.1 M1823.1,1761.7 l6.8,-3.1 M1823.1,1764.9 l6.8,-3.1 M1823.1,1768.1 l6.8,-3.1 M1823.1,1771.3 l6.8,-3.1 M1833.7,1720.5 l6.8,-3.1 M1833.7,1723.7 l6.8,-3.1 M1833.7,1726.9 l6.8,-3.1 M1833.7,1730.1 l6.8,-3.1 M1833.7,1733.3 l6.8,-3.1 M1833.7,1736.5 l6.8,-3.1 M1833.7,1739.7 l6.8,-3.1 M1833.7,1742.9 l6.8,-3.1 M1833.7,1746.1 l6.8,-3.1 M1833.7,1749.3 l6.8,-3.1 M1833.7,1752.5 l6.8,-3.1 M1833.7,1755.7 l6.8,-3.1 M1833.7,1758.9 l6.8,-3.1 M1833.7,1762.1 l6.8,-3.1 M1833.7,1765.3 l6.8,-3.1 M1844.3,1714.5 l6.8,-3.1 M1844.3,1717.7 l6.8,-3.1 M1844.3,1720.9 l6.8,-3.1 M1844.3,1724.1 l6.8,-3.1 M1844.3,1727.3 l6.8,-3.1 M1844.3,1730.5 l6.8,-3.1 M1844.3,1733.7 l6.8,-3.1 M1844.3,1736.9 l6.8,-3.1 M1844.3,1740.1 l6.8,-3.1 M1844.3,1743.3 l6.8,-3.1 M1844.3,1746.5 l6.8,-3.1 M1844.3,1749.7 l6.8,-3.1 M1844.3,1752.9 l6.8,-3.1 M1844.3,1756.1 l6.8,-3.1 M1844.3,1759.3 l6.8,-3.1 M1854.9,1708.5 l6.8,-3.1 M1854.9,1711.7 l6.8,-3.1 M1854.9,1714.9 l6.8,-3.1 M1854.9,1718.1 l6.8,-3.1 M1854.9,1721.3 l6.8,-3.1 M1854.9,1724.5 l6.8,-3.1 M1854.9,1727.7 l6.8,-3.1 M1854.9,1730.9 l6.8,-3.1 M1854.9,1734.1 l6.8,-3.1 M1854.9,1737.3 l6.8,-3.1 M1854.9,1740.5 l6.8,-3.1 M1854.9,1743.7 l6.8,-3.1 M1854.9,1746.9 l6.8,-3.1 M1854.9,1750.1 l6.8,-3.1 M1854.9,1753.3 l6.8,-3.1 M1865.5,1702.5 l6.8,-3.1 M1865.5,1705.7 l6.8,-3.1 M1865.5,1708.9 l6.8,-3.1 M1865.5,1712.1 l6.8,-3.1 M1865.5,1715.3 l6.8,-3.1 M1865.5,1718.5 l6.8,-3.1 M1865.5,1721.7 l6.8,-3.1 M1865.5,1724.9 l6.8,-3.1 M1865.5,1728.1 l6.8,-3.1 M1865.5,1731.3 l6.8,-3.1 M1865.5,1734.5 l6.8,-3.1 M1865.5,1737.7 l6.8,-3.1 M1865.5,1740.9 l6.8,-3.1 M1865.5,1744.1 l6.8,-3.1 M1865.5,1747.3 l6.8,-3.1 M1876.1,1696.5 l6.8,-3.1 M1876.1,1699.7 l6.8,-3.1 M1876.1,1702.9 l6.8,-3.1 M1876.1,1706.1 l6.8,-3.1 M1876.1,1709.3 l6.8,-3.1 M1876.1,1712.5 l6.8,-3.1 M1876.1,1715.7 l6.8,-3.1 M1876.1,1718.9 l6.8,-3.1 M1876.1,1722.1 l6.8,-3.1 M1876.1,1725.3 l6.8,-3.1 M1876.1,1728.5 l6.8,-3.1 M1876.1,1731.7 l6.8,-3.1 M1876.1,1734.9 l6.8,-3.1 M1876.1,1738.1 l6.8,-3.1 M1876.1,1741.3 l6.8,-3.1 M1886.7,1690.5 l6.8,-3.1 M1886.7,1693.7 l6.8,-3.1 M1886.7,1696.9 l6.8,-3.1 M1886.7,1700.1 l6.8,-3.1 M1886.7,1703.3 l6.8,-3.1 M1886.7,1706.5 l6.8,-3.1 M1886.7,1709.7 l6.8,-3.1 M1886.7,1712.9 l6.8,-3.1 M1886.7,1716.1 l6.8,-3.1 M1886.7,1719.3 l6.8,-3.1 M1886.7,1722.5 l6.8,-3.1 M1886.7,1725.7 l6.8,-3.1 M1886.7,1728.9 l6.8,-3.1 M1886.7,1732.1 l6.8,-3.1 M1886.7,1735.3 l6.8,-3.1 M1897.3,1684.5 l6.8,-3.1 M1897.3,1687.7 l6.8,-3.1 M1897.3,1690.9 l6.8,-3.1 M1897.3,1694.1 l6.8,-3.1 M1897.3,1697.3 l6.8,-3.1 M1897.3,1700.5 l6.8,-3.1 M1897.3,1703.7 l6.8,-3.1 M1897.3,1706.9 l6.8,-3.1 M1897.3,1710.1 l6.8,-3.1 M1897.3,1713.3 l6.8,-3.1 M1897.3,1716.5 l6.8,-3.1 M1897.3,1719.7 l6.8,-3.1 M1897.3,1722.9 l6.8,-3.1 M1897.3,1726.1 l6.8,-3.1 M1897.3,1729.3 l6.8,-3.1" stroke="#000" stroke-width="2.5" stroke-linecap="round" fill="none"/>
<ellipse cx="1797.7" cy="1672.1" rx="29.6" ry="17.5" fill="#fff" stroke="#000" stroke-width="2.4" />
<polygon points="1797.7,1672.1 1823.3,1677.6 1817.9,1682.9" fill="#777" stroke="#000" stroke-width="1.2"/><polygon points="1797.7,1672.1 1802.4,1688 1792,1687.8" fill="#777" stroke="#000" stroke-width="1.2"/><polygon points="1797.7,1672.1 1776.8,1682.4 1771.8,1677.1" fill="#777" stroke="#000" stroke-width="1.2"/><polygon points="1797.7,1672.1 1772.1,1666.6 1777.5,1661.3" fill="#777" stroke="#000" stroke-width="1.2"/><polygon points="1797.7,1672.1 1793,1656.2 1803.4,1656.4" fill="#777" stroke="#000" stroke-width="1.2"/><polygon points="1797.7,1672.1 1818.6,1661.8 1823.6,1667.1" fill="#777" stroke="#000" stroke-width="1.2"/>
<ellipse cx="1843.7" cy="1645.8" rx="29.6" ry="17.5" fill="#fff" stroke="#000" stroke-width="2.4" />
<polygon points="1843.7,1645.8 1869.3,1651.3 1863.9,1656.6" fill="#777" stroke="#000" stroke-width="1.2"/><polygon points="1843.7,1645.8 1848.4,1661.7 1838,1661.5" fill="#777" stroke="#000" stroke-width="1.2"/><polygon points="1843.7,1645.8 1822.8,1656.1 1817.8,1650.8" fill="#777" stroke="#000" stroke-width="1.2"/><polygon points="1843.7,1645.8 1818.1,1640.3 1823.5,1635" fill="#777" stroke="#000" stroke-width="1.2"/><polygon points="1843.7,1645.8 1839,1629.9 1849.4,1630.1" fill="#777" stroke="#000" stroke-width="1.2"/><polygon points="1843.7,1645.8 1864.6,1635.5 1869.6,1640.8" fill="#777" stroke="#000" stroke-width="1.2"/>
<ellipse cx="1767" cy="1777.5" rx="4.6" ry="4" fill="#111"/>
<path d="M1727,1780 q4,-6 8,0 q2,6 -2,9 q-6,2 -7,-3 Z" fill="#111"/>
<polygon points="-16,-2.4 2,-2.4 2,-5.6 16,0 2,5.6 2,2.4 -16,2.4" fill="#fff" stroke="#000" stroke-width="1.8" stroke-linejoin="miter" transform="translate(1742.5,1804) rotate(155)"/>
<polygon points="1566.3,1780.7 1614.6,1808 1614.6,1906.7 1566.3,1879.4" fill="url(#gFaceL)" stroke="#000" stroke-width="2.4" stroke-linejoin="round" />
<polygon points="1614.6,1808 1670.5,1775.2 1670.5,1873.9 1614.6,1906.7" fill="url(#gFaceR)" stroke="#000" stroke-width="2.4" stroke-linejoin="round" />
<polygon points="1566.3,1780.7 1621.1,1747.8 1670.5,1775.2 1614.6,1808" fill="url(#gFaceT)" stroke="#000" stroke-width="2.4" stroke-linejoin="round" />
<path d="M1566.3,1794.2 L1614.6,1821.5 L1670.5,1788.7" stroke="#000" stroke-width="1.8" fill="none" />
<path d="M1566.3,1863.2 L1614.6,1890.5 L1670.5,1857.7" stroke="#000" stroke-width="1.8" fill="none" />
<path d="M1579.1,1817.5 l6.8,3.1 M1579.1,1820.7 l6.8,3.1 M1579.1,1823.9 l6.8,3.1 M1579.1,1827.1 l6.8,3.1 M1579.1,1830.3 l6.8,3.1 M1579.1,1833.5 l6.8,3.1 M1579.1,1836.7 l6.8,3.1 M1579.1,1839.9 l6.8,3.1 M1579.1,1843.1 l6.8,3.1 M1579.1,1846.3 l6.8,3.1 M1579.1,1849.5 l6.8,3.1 M1579.1,1852.7 l6.8,3.1 M1579.1,1855.9 l6.8,3.1 M1579.1,1859.1 l6.8,3.1 M1579.1,1862.3 l6.8,3.1 M1579.1,1865.5 l6.8,3.1 M1579.1,1868.7 l6.8,3.1 M1589.1,1823 l6.8,3.1 M1589.1,1826.2 l6.8,3.1 M1589.1,1829.4 l6.8,3.1 M1589.1,1832.6 l6.8,3.1 M1589.1,1835.8 l6.8,3.1 M1589.1,1839 l6.8,3.1 M1589.1,1842.2 l6.8,3.1 M1589.1,1845.4 l6.8,3.1 M1589.1,1848.6 l6.8,3.1 M1589.1,1851.8 l6.8,3.1 M1589.1,1855 l6.8,3.1 M1589.1,1858.2 l6.8,3.1 M1589.1,1861.4 l6.8,3.1 M1589.1,1864.6 l6.8,3.1 M1589.1,1867.8 l6.8,3.1 M1589.1,1871 l6.8,3.1 M1589.1,1874.2 l6.8,3.1" stroke="#000" stroke-width="2.5" stroke-linecap="round" fill="none"/>
<line x1="1625" y1="1818.5" x2="1659.5" y2="1802" stroke="#000" stroke-width="1.8" stroke-linecap="butt"/>
<line x1="1625" y1="1825.7" x2="1659.5" y2="1809.2" stroke="#000" stroke-width="1.8" stroke-linecap="butt"/>
<line x1="1625" y1="1832.9" x2="1659.5" y2="1816.4" stroke="#000" stroke-width="1.8" stroke-linecap="butt"/>
<line x1="1625" y1="1840.1" x2="1659.5" y2="1823.6" stroke="#000" stroke-width="1.8" stroke-linecap="butt"/>
<line x1="1625" y1="1847.3" x2="1659.5" y2="1830.8" stroke="#000" stroke-width="1.8" stroke-linecap="butt"/>
<path d="M1634,1773 q3,-6 6,0 l0,10 q-3,4 -6,0 Z" fill="#111"/>
<ellipse cx="1586" cy="1881.5" rx="4.8" ry="4" fill="#111"/>
<polygon points="-15,-2.4 1,-2.4 1,-5.6 15,0 1,5.6 1,2.4 -15,2.4" fill="#fff" stroke="#000" stroke-width="1.8" stroke-linejoin="miter" transform="translate(1558,1887) rotate(160)"/>
<polygon points="-17,-2.4 3,-2.4 3,-5.6 17,0 3,5.6 3,2.4 -17,2.4" fill="#fff" stroke="#000" stroke-width="1.8" stroke-linejoin="miter" transform="translate(1236,1884.5) rotate(180)"/>
<polygon points="-16,-2.4 2,-2.4 2,-5.6 16,0 2,5.6 2,2.4 -16,2.4" fill="#fff" stroke="#000" stroke-width="1.8" stroke-linejoin="miter" transform="translate(331,1801.7) rotate(210)"/>
<polygon points="-16,-2.4 2,-2.4 2,-5.6 16,0 2,5.6 2,2.4 -16,2.4" fill="#fff" stroke="#000" stroke-width="1.8" stroke-linejoin="miter" transform="translate(133.3,1647) rotate(-90)"/>
<polygon points="-16,-2.4 2,-2.4 2,-5.6 16,0 2,5.6 2,2.4 -16,2.4" fill="#fff" stroke="#000" stroke-width="1.8" stroke-linejoin="miter" transform="translate(188.8,1534.5) rotate(-30)"/>
<polygon points="-15,-2.4 1,-2.4 1,-5.6 15,0 1,5.6 1,2.4 -15,2.4" fill="#fff" stroke="#000" stroke-width="1.8" stroke-linejoin="miter" transform="translate(367.5,1467.5) rotate(27)"/>
<polygon points="2369.8,1559.7 2393.3,1573.5 2393.3,1653.5 2369.8,1639.7" fill="url(#gFaceL)" stroke="#000" stroke-width="2.4" stroke-linejoin="round" />
<polygon points="2393.3,1573.5 2449.7,1542.6 2449.7,1622.6 2393.3,1653.5" fill="url(#gFaceL)" stroke="#000" stroke-width="2.8" stroke-linejoin="round" />
<polygon points="2369.8,1559.7 2425.2,1528.8 2449.7,1542.6 2393.3,1573.5" fill="url(#gFaceT)" stroke="#000" stroke-width="2.4" stroke-linejoin="round" />
<path d="M2400.7,1587 Q2400.7,1582 2405,1579.5 L2440,1560 Q2444.4,1557.5 2444.4,1562.5 L2444.4,1573 Q2444.4,1577.8 2440,1580.3 L2405,1599.8 Q2400.7,1602.3 2400.7,1597.3 Z" fill="#fff" stroke="#000" stroke-width="2.2"/>
<path d="M2424,1581 l4,-8 l2,3 l3,-5 l-2,8 l-2,-2 l-2,6 Z" fill="#111"/>
<circle cx="2407" cy="1616" r="1.5" fill="#111"/>
<circle cx="2411.4" cy="1613.5" r="1.5" fill="#111"/>
<circle cx="2415.8" cy="1611" r="1.5" fill="#111"/>
<circle cx="2420.2" cy="1608.5" r="1.5" fill="#111"/>
<circle cx="2407" cy="1620.6" r="1.5" fill="#111"/>
<circle cx="2411.4" cy="1618.1" r="1.5" fill="#111"/>
<circle cx="2415.8" cy="1615.6" r="1.5" fill="#111"/>
<circle cx="2420.2" cy="1613.1" r="1.5" fill="#111"/>
<circle cx="2407" cy="1625.2" r="1.5" fill="#111"/>
<circle cx="2411.4" cy="1622.7" r="1.5" fill="#111"/>
<circle cx="2415.8" cy="1620.2" r="1.5" fill="#111"/>
<circle cx="2420.2" cy="1617.7" r="1.5" fill="#111"/>
<circle cx="2407" cy="1629.8" r="1.5" fill="#111"/>
<circle cx="2411.4" cy="1627.3" r="1.5" fill="#111"/>
<circle cx="2415.8" cy="1624.8" r="1.5" fill="#111"/>
<circle cx="2420.2" cy="1622.3" r="1.5" fill="#111"/>
<circle cx="2425.5" cy="1606" r="1.5" fill="#111"/>
<circle cx="2429.9" cy="1603.5" r="1.5" fill="#111"/>
<circle cx="2434.3" cy="1601" r="1.5" fill="#111"/>
<circle cx="2438.7" cy="1598.5" r="1.5" fill="#111"/>
<circle cx="2425.5" cy="1610.6" r="1.5" fill="#111"/>
<circle cx="2429.9" cy="1608.1" r="1.5" fill="#111"/>
<circle cx="2434.3" cy="1605.6" r="1.5" fill="#111"/>
<circle cx="2438.7" cy="1603.1" r="1.5" fill="#111"/>
<circle cx="2425.5" cy="1615.2" r="1.5" fill="#111"/>
<circle cx="2429.9" cy="1612.7" r="1.5" fill="#111"/>
<circle cx="2434.3" cy="1610.2" r="1.5" fill="#111"/>
<circle cx="2438.7" cy="1607.7" r="1.5" fill="#111"/>
<circle cx="2425.5" cy="1619.8" r="1.5" fill="#111"/>
<circle cx="2429.9" cy="1617.3" r="1.5" fill="#111"/>
<circle cx="2434.3" cy="1614.8" r="1.5" fill="#111"/>
<circle cx="2438.7" cy="1612.3" r="1.5" fill="#111"/>
<rect x="2390" y="1580" width="2.4" height="6" fill="#111"/><rect x="2390" y="1636" width="2.4" height="6" fill="#111"/>
<polygon points="2679,1782 2716,1772 2742,1784 2704,1797" fill="#eee" stroke="#000" stroke-width="2.2" stroke-linejoin="round" />
<polygon points="2679,1782 2704,1797 2704,1806 2679,1791" fill="#111" stroke="#000" stroke-width="2" stroke-linejoin="round" />
<polygon points="2704,1797 2742,1784 2742,1792 2704,1806" fill="#ddd" stroke="#000" stroke-width="2" stroke-linejoin="round" />
<ellipse cx="2708" cy="1782" rx="9" ry="4.6" fill="#fff" stroke="#000" stroke-width="2"/><rect x="2705" y="1770" width="6" height="12" fill="#ccc" stroke="#000" stroke-width="1.6"/>
<polygon points="2676.7,1747.2 2717.2,1724.8 2726.7,1761 2686.3,1783.4" fill="#111" stroke="#000" stroke-width="2" stroke-linejoin="round" />
<polygon points="2680.5,1749.5 2715,1730 2722.6,1759 2688.6,1778" fill="url(#gScr)" stroke="#000" stroke-width="1" stroke-linejoin="round" />
<circle cx="2712" cy="1753" r="2" fill="#111"/>
<polygon points="2698,1806.8 2740.6,1785.5 2753.4,1795.1 2710.8,1819.6" fill="#111" stroke="#000" stroke-width="2" stroke-linejoin="round" />
<path d="M2742,1786 q6,-10 12,-2 q4,4 10,-2" stroke="#000" stroke-width="1.8" fill="none" />
<polygon points="1620.7,518.1 1656.7,495.5 1670,504.5 1633.4,525.7" fill="#fff" stroke="#000" stroke-width="2.4" stroke-linejoin="round" />
<polygon points="1620.7,518.1 1633.4,525.7 1633.4,576.5 1620.7,568" fill="#ddd" stroke="#000" stroke-width="2.4" stroke-linejoin="round" />
<polygon points="1633.4,525.7 1670,504.5 1670,555.3 1633.4,576.5" fill="#fff" stroke="#000" stroke-width="3" stroke-linejoin="round" />
<ellipse cx="1644.7" cy="538.5" rx="2" ry="2.3" fill="#111"/>
<ellipse cx="1651.9" cy="534.5" rx="2" ry="2.3" fill="#111"/>
<ellipse cx="1659.1" cy="530.5" rx="2" ry="2.3" fill="#111"/>
<ellipse cx="1644.7" cy="545.1" rx="2" ry="2.3" fill="#111"/>
<ellipse cx="1651.9" cy="541.1" rx="2" ry="2.3" fill="#111"/>
<ellipse cx="1659.1" cy="537.1" rx="2" ry="2.3" fill="#111"/>
<ellipse cx="1644.7" cy="551.7" rx="2" ry="2.3" fill="#111"/>
<ellipse cx="1651.9" cy="547.7" rx="2" ry="2.3" fill="#111"/>
<ellipse cx="1659.1" cy="543.7" rx="2" ry="2.3" fill="#111"/>
<ellipse cx="1644.7" cy="558.3" rx="2" ry="2.3" fill="#111"/>
<circle cx="1636.2" cy="529.5" r="1.3" fill="#111"/><circle cx="1636.2" cy="572" r="1.3" fill="#111"/>
<polygon points="1945.5,332.6 1981.5,310 1994.8,319 1958.2,340.2" fill="#fff" stroke="#000" stroke-width="2.4" stroke-linejoin="round" />
<polygon points="1945.5,332.6 1958.2,340.2 1958.2,391 1945.5,382.5" fill="#ddd" stroke="#000" stroke-width="2.4" stroke-linejoin="round" />
<polygon points="1958.2,340.2 1994.8,319 1994.8,369.8 1958.2,391" fill="#fff" stroke="#000" stroke-width="3" stroke-linejoin="round" />
<ellipse cx="1969.5" cy="353" rx="2" ry="2.3" fill="#111"/>
<ellipse cx="1976.7" cy="349" rx="2" ry="2.3" fill="#111"/>
<ellipse cx="1983.9" cy="345" rx="2" ry="2.3" fill="#111"/>
<ellipse cx="1969.5" cy="359.6" rx="2" ry="2.3" fill="#111"/>
<ellipse cx="1976.7" cy="355.6" rx="2" ry="2.3" fill="#111"/>
<ellipse cx="1983.9" cy="351.6" rx="2" ry="2.3" fill="#111"/>
<ellipse cx="1969.5" cy="366.2" rx="2" ry="2.3" fill="#111"/>
<ellipse cx="1976.7" cy="362.2" rx="2" ry="2.3" fill="#111"/>
<ellipse cx="1983.9" cy="358.2" rx="2" ry="2.3" fill="#111"/>
<ellipse cx="1969.5" cy="372.8" rx="2" ry="2.3" fill="#111"/>
<circle cx="1961" cy="344" r="1.3" fill="#111"/><circle cx="1961" cy="386.5" r="1.3" fill="#111"/>
<polygon points="2693.5,96.5 2706.5,87.5 2743.1,109 2731.5,116.5" fill="#fff" stroke="#000" stroke-width="2.4" stroke-linejoin="round" />
<polygon points="2731.5,116.5 2743.1,109 2743.1,160.3 2731.5,167.8" fill="#e8e8e8" stroke="#000" stroke-width="2.4" stroke-linejoin="round" />
<polygon points="2693.5,96.5 2731.5,116.5 2731.5,167.8 2693.5,146.5" fill="url(#gBox)" stroke="#000" stroke-width="3" stroke-linejoin="round" />
<ellipse cx="2703.5" cy="120.5" rx="2" ry="2.3" fill="#111"/>
<ellipse cx="2711.1" cy="124.7" rx="2" ry="2.3" fill="#111"/>
<ellipse cx="2718.7" cy="128.9" rx="2" ry="2.3" fill="#111"/>
<ellipse cx="2703.5" cy="127.9" rx="2" ry="2.3" fill="#111"/>
<ellipse cx="2711.1" cy="132.1" rx="2" ry="2.3" fill="#111"/>
<ellipse cx="2718.7" cy="136.3" rx="2" ry="2.3" fill="#111"/>
<ellipse cx="2703.5" cy="135.3" rx="2" ry="2.3" fill="#111"/>
<ellipse cx="2711.1" cy="139.5" rx="2" ry="2.3" fill="#111"/>
<ellipse cx="2718.7" cy="143.7" rx="2" ry="2.3" fill="#111"/>
<circle cx="2728.5" cy="119.5" r="1.3" fill="#111"/><circle cx="2728.5" cy="162.5" r="1.3" fill="#111"/>
<g transform="translate(1624,633)"><ellipse cx="-13" cy="1" rx="5" ry="9" transform="rotate(18 -13 1)" fill="#fff" stroke="#000" stroke-width="5"/><ellipse cx="-2" cy="15" rx="6" ry="10" transform="rotate(18 -2 15)" fill="#fff" stroke="#000" stroke-width="5"/><ellipse cx="12" cy="19" rx="6" ry="10" transform="rotate(18 12 19)" fill="#fff" stroke="#000" stroke-width="5"/><ellipse cx="23" cy="13" rx="5" ry="9" transform="rotate(18 23 13)" fill="#fff" stroke="#000" stroke-width="5"/><path d="M-13,-10 L3,-15 L12,-3 L8,12 L-6,17 L-15,3 Z" fill="#050505" stroke="#000" stroke-width="3" stroke-linejoin="round"/><g transform="translate(-5.5,-21.7) rotate(-21.5)"><rect x="-18" y="-6.6" width="36" height="13.2" rx="3" fill="#050505"/><path d="M-9,-2.6 L13,-2.6 M-9,2 L13,2" stroke="#fff" stroke-width="2.2"/></g><g transform="translate(14.6,-4.8) rotate(-8.6)"><rect x="-13" y="-6.4" width="27" height="12.8" rx="3" fill="#050505"/><path d="M-9,-2.6 L10,-2.6 M-9,2 L10,2" stroke="#fff" stroke-width="2.2"/></g></g>
<g transform="translate(1948,447.5)"><ellipse cx="-13" cy="1" rx="5" ry="9" transform="rotate(18 -13 1)" fill="#fff" stroke="#000" stroke-width="5"/><ellipse cx="-2" cy="15" rx="6" ry="10" transform="rotate(18 -2 15)" fill="#fff" stroke="#000" stroke-width="5"/><ellipse cx="12" cy="19" rx="6" ry="10" transform="rotate(18 12 19)" fill="#fff" stroke="#000" stroke-width="5"/><ellipse cx="23" cy="13" rx="5" ry="9" transform="rotate(18 23 13)" fill="#fff" stroke="#000" stroke-width="5"/><path d="M-13,-10 L3,-15 L12,-3 L8,12 L-6,17 L-15,3 Z" fill="#050505" stroke="#000" stroke-width="3" stroke-linejoin="round"/><g transform="translate(-5.5,-21.7) rotate(-21.5)"><rect x="-18" y="-6.6" width="36" height="13.2" rx="3" fill="#050505"/><path d="M-9,-2.6 L13,-2.6 M-9,2 L13,2" stroke="#fff" stroke-width="2.2"/></g><g transform="translate(14.6,-4.8) rotate(-8.6)"><rect x="-13" y="-6.4" width="27" height="12.8" rx="3" fill="#050505"/><path d="M-9,-2.6 L10,-2.6 M-9,2 L10,2" stroke="#fff" stroke-width="2.2"/></g></g>
<path d="M863.4,704.4 L1452,704.4 Q1471,704.4 1471,723.4 L1471,1090.3 Q1471,1109.3 1452,1109.3 L1258.6,1109.3 L1269.4,1402 L1215.4,1109.3 L863.4,1109.3 Q844.4,1109.3 844.4,1090.3 L844.4,723.4 Q844.4,704.4 863.4,704.4 Z" fill="#fff" stroke="#000" stroke-width="2"/>
<g transform="translate(891.4,1068.3) rotate(-29.7)"><path d="M448,-33 L601.6,-33 A19.4,33 0 0 1 601.6,33 L448,33 A19.4,33 0 0 0 448,-33 Z" fill="url(#pDots)" stroke="#000" stroke-width="2"/><path d="M301,-33 L448,-33 A19.4,33 0 0 1 448,33 L301,33 A19.4,33 0 0 0 301,-33 Z" fill="url(#gAir)" stroke="#000" stroke-width="2"/><path d="M158,-33 L301,-33 A19.4,33 0 0 1 301,33 L158,33 A19.4,33 0 0 0 158,-33 Z" fill="url(#pDots)" stroke="#000" stroke-width="2"/><path d="M0,-33 L158,-33 A19.4,33 0 0 1 158,33 L0,33 Z" fill="url(#gAir)" stroke="#000" stroke-width="2"/><ellipse cx="0" cy="0" rx="19.4" ry="33" fill="#e8e8e8" stroke="#000" stroke-width="2.4"/><ellipse cx="0.5" cy="0" rx="14.9" ry="28" fill="#fff" stroke="#000" stroke-width="2.2"/><polygon points="-36,-6 12,-6 12,-13 36,0 12,13 12,6 -36,6" fill="url(#pX)" stroke="#000" stroke-width="1.8" transform="translate(524,-55)"/><polygon points="-36,-6 12,-6 12,-13 36,0 12,13 12,6 -36,6" fill="url(#pX)" stroke="#000" stroke-width="1.8" transform="translate(244,62)"/></g>
<line x1="1059.4" y1="771.4" x2="1072.6" y2="948.8" stroke="#000" stroke-width="2" stroke-linecap="butt"/>
<line x1="1059.4" y1="771.4" x2="1343.2" y2="813.5" stroke="#000" stroke-width="2" stroke-linecap="butt"/>
<line x1="982.3" y1="771.4" x2="1059.4" y2="771.4" stroke="#000" stroke-width="2.4" stroke-linecap="butt"/>
<text transform="translate(984.2,761.4) scale(0.7650,1)" font-size="48" font-weight="350" letter-spacing="-2.183" fill="#000">物料</text>
<line x1="1264.3" y1="1082.3" x2="1246.6" y2="856.7" stroke="#000" stroke-width="2" stroke-linecap="butt"/>
<line x1="1264.3" y1="1082.3" x2="988" y2="1014.6" stroke="#000" stroke-width="2" stroke-linecap="butt"/>
<line x1="1264.3" y1="1082.3" x2="1406" y2="1082.3" stroke="#000" stroke-width="2.4" stroke-linecap="butt"/>
<text transform="translate(1265.7,1072.3) scale(0.7650,1)" font-size="48" font-weight="350" letter-spacing="-2.183" fill="#000">压缩空气</text>
<line x1="301" y1="1026" x2="530.5" y2="1196" stroke="#000" stroke-width="2" stroke-linecap="butt"/>
<line x1="122.6" y1="1026" x2="301" y2="1026" stroke="#000" stroke-width="2.4" stroke-linecap="butt"/>
<text transform="translate(125.6,1016) scale(0.7650,1)" font-size="48" font-weight="350" letter-spacing="-2.248" fill="#000">气动破拱器</text>
<line x1="288" y1="1124.4" x2="512.8" y2="1227.8" stroke="#000" stroke-width="2" stroke-linecap="butt"/>
<line x1="145" y1="1124.4" x2="288" y2="1124.4" stroke="#000" stroke-width="2.4" stroke-linecap="butt"/>
<text transform="translate(148.6,1114.4) scale(0.7650,1)" font-size="48" font-weight="350" letter-spacing="-2.248" fill="#000">气化装置</text>
<line x1="304.9" y1="1230.5" x2="517.3" y2="1387.6" stroke="#000" stroke-width="2" stroke-linecap="butt"/>
<line x1="120.7" y1="1230.5" x2="304.9" y2="1230.5" stroke="#000" stroke-width="2.4" stroke-linecap="butt"/>
<text transform="translate(122.1,1220.5) scale(0.7650,1)" font-size="48" font-weight="350" letter-spacing="-2.248" fill="#000">压力变送器</text>
<line x1="462.8" y1="1387.6" x2="519" y2="1421" stroke="#000" stroke-width="2" stroke-linecap="butt"/>
<line x1="277.4" y1="1387.6" x2="462.8" y2="1387.6" stroke="#000" stroke-width="2.4" stroke-linecap="butt"/>
<text transform="translate(280.1,1377.6) scale(0.7650,1)" font-size="48" font-weight="350" letter-spacing="-2.248" fill="#000">高位料位计</text>
<line x1="667.7" y1="1175" x2="633.8" y2="1201.5" stroke="#000" stroke-width="2" stroke-linecap="butt"/>
<line x1="667.7" y1="1175" x2="848" y2="1175" stroke="#000" stroke-width="2.4" stroke-linecap="butt"/>
<text transform="translate(668.6,1165) scale(0.7650,1)" font-size="48" font-weight="350" letter-spacing="-2.248" fill="#000">低位料位计</text>
<line x1="682" y1="1394" x2="535.7" y2="1563.4" stroke="#000" stroke-width="2" stroke-linecap="butt"/>
<line x1="682" y1="1394" x2="821.8" y2="1394" stroke="#000" stroke-width="2.4" stroke-linecap="butt"/>
<text transform="translate(680.6,1384) scale(0.7650,1)" font-size="48" font-weight="350" letter-spacing="-2.248" fill="#000">上进气阀</text>
<line x1="430.4" y1="1687" x2="503.2" y2="1576" stroke="#000" stroke-width="2" stroke-linecap="butt"/>
<line x1="165.4" y1="1687" x2="430.4" y2="1687" stroke="#000" stroke-width="2.4" stroke-linecap="butt"/>
<text transform="translate(163.1,1677) scale(0.7650,1)" font-size="48" font-weight="350" letter-spacing="-2.248" fill="#000">脉冲气刀阀</text>
<text transform="translate(203.1,1612) scale(0.7650,1)" font-size="48" font-weight="350" letter-spacing="-2.248" fill="#000">储气罐</text>
<text transform="translate(290.8,1758.2) scale(0.5400,1)" font-size="43.4" font-weight="400" fill="#000" stroke="#000" stroke-width="1.1" text-anchor="middle" x="16.2 48.6 81">PPC</text><text transform="translate(342.4,1758.5) scale(0.7650,1)" font-size="48" font-weight="350" letter-spacing="-2.248" fill="#000">型脉冲料栓密相低速气力输送仓泵</text>
<path d="M339.7,1677.6 L352.4,1677.6 L352.4,1654.5 L365,1654.5 L365,1677.6 L377.7,1677.6 L377.7,1654.5 L391.8,1654.5 L391.8,1677.6 L404.5,1677.6 L404.5,1654.5 L418.6,1654.5 L418.6,1677.6 L431.3,1677.6" stroke="#000" stroke-width="2" fill="none" />
<text x="346" y="1676" font-size="13" text-anchor="middle" transform="translate(346,0) scale(0.6,1) translate(-346,0)">0</text>
<text x="371.4" y="1676" font-size="13" text-anchor="middle" transform="translate(371.4,0) scale(0.6,1) translate(-371.4,0)">0</text>
<text x="398" y="1676" font-size="13" text-anchor="middle" transform="translate(398,0) scale(0.6,1) translate(-398,0)">0</text>
<text x="425" y="1676" font-size="13" text-anchor="middle" transform="translate(425,0) scale(0.6,1) translate(-425,0)">0</text>
<text x="359" y="1652" font-size="13" text-anchor="middle" transform="translate(359,0) scale(0.6,1) translate(-359,0)">1</text>
<text x="384.6" y="1652" font-size="13" text-anchor="middle" transform="translate(384.6,0) scale(0.6,1) translate(-384.6,0)">1</text>
<text x="411.5" y="1652" font-size="13" text-anchor="middle" transform="translate(411.5,0) scale(0.6,1) translate(-411.5,0)">1</text>
<line x1="1861" y1="365.6" x2="1927" y2="430.5" stroke="#000" stroke-width="2" stroke-linecap="butt"/>
<line x1="1861" y1="365.6" x2="1948.3" y2="422" stroke="#000" stroke-width="2" stroke-linecap="butt"/>
<line x1="1683.8" y1="365.6" x2="1861" y2="365.6" stroke="#000" stroke-width="2.4" stroke-linecap="butt"/>
<text transform="translate(1685.1,355.6) scale(0.7650,1)" font-size="48" font-weight="350" letter-spacing="-2.248" fill="#000">气动换路阀</text>
<line x1="2587.8" y1="104.6" x2="2629" y2="144" stroke="#000" stroke-width="2" stroke-linecap="butt"/>
<line x1="2349" y1="104.6" x2="2587.8" y2="104.6" stroke="#000" stroke-width="2.4" stroke-linecap="butt"/>
<text transform="translate(2349.6,94.6) scale(0.7650,1)" font-size="48" font-weight="350" letter-spacing="-2.248" fill="#000">脉冲料仓除尘器</text>
<line x1="2139.7" y1="841.2" x2="2167.4" y2="792.8" stroke="#000" stroke-width="2" stroke-linecap="butt"/>
<line x1="1964.6" y1="841.2" x2="2139.7" y2="841.2" stroke="#000" stroke-width="2.4" stroke-linecap="butt"/>
<text transform="translate(1966.6,831.2) scale(0.7650,1)" font-size="48" font-weight="350" letter-spacing="-2.248" fill="#000">高位料位计</text>
<line x1="1872" y1="1209.4" x2="1905" y2="1167" stroke="#000" stroke-width="2" stroke-linecap="butt"/>
<line x1="1872" y1="1209.4" x2="1965" y2="1236" stroke="#000" stroke-width="2" stroke-linecap="butt"/>
<line x1="1724" y1="1209.4" x2="1872" y2="1209.4" stroke="#000" stroke-width="2.4" stroke-linecap="butt"/>
<text transform="translate(1727.1,1199.4) scale(0.7650,1)" font-size="48" font-weight="350" letter-spacing="-2.248" fill="#000">气化装置</text>
<line x1="1916" y1="1294.6" x2="1968" y2="1228" stroke="#000" stroke-width="2" stroke-linecap="butt"/>
<line x1="1737" y1="1294.6" x2="1916" y2="1294.6" stroke="#000" stroke-width="2.4" stroke-linecap="butt"/>
<text transform="translate(1739.6,1284.6) scale(0.7650,1)" font-size="48" font-weight="350" letter-spacing="-2.248" fill="#000">气动破拱器</text>
<line x1="2088.5" y1="1236" x2="2071" y2="1218" stroke="#000" stroke-width="2" stroke-linecap="butt"/>
<line x1="2088.5" y1="1236" x2="2267" y2="1236" stroke="#000" stroke-width="2.4" stroke-linecap="butt"/>
<text transform="translate(2089.6,1226) scale(0.7650,1)" font-size="48" font-weight="350" letter-spacing="-2.248" fill="#000">低位料位计</text>
<text transform="translate(1870.1,1820) scale(0.7650,1)" font-size="48" font-weight="350" letter-spacing="-2.248" fill="#000">空气压缩机</text>
<text transform="translate(1665.6,1917) scale(0.7650,1)" font-size="48" font-weight="350" letter-spacing="-2.248" fill="#000">冷冻干燥机</text>
<text transform="translate(2198.8,1705.2) scale(0.5400,1)" font-size="43.4" font-weight="400" fill="#000" stroke="#000" stroke-width="1.1" text-anchor="middle" x="16.2 48.6 81">PLC</text><text transform="translate(2250.4,1705.5) scale(0.7650,1)" font-size="48" font-weight="350" letter-spacing="-2.248" fill="#000">可编程控制系统</text>
<text transform="translate(2526.6,1871.5) scale(0.7650,1)" font-size="48" font-weight="350" letter-spacing="-2.248" fill="#000">工控计算机或</text><text transform="translate(2737.5,1871.2) scale(0.5400,1)" font-size="43.4" font-weight="400" fill="#000" stroke="#000" stroke-width="1.1" text-anchor="middle" x="16.2 48.6 81">DCS</text><text transform="translate(2789.1,1871.5) scale(0.7650,1)" font-size="48" font-weight="350" letter-spacing="-2.248" fill="#000">系统</text>
<polygon points="1778.4,518.3 1796.6,507.8 1793.9,506.8 1809.3,502.8 1803.8,510.7 1801.2,509.7 1783.1,520.2" fill="#222" stroke="#000" stroke-width="1"/>
<polygon points="824.8,1638.1 843,1627.6 840.3,1626.6 855.7,1622.5 850.2,1630.5 847.6,1629.5 829.5,1640" fill="#222" stroke="#000" stroke-width="1"/>
<polygon points="1121.9,1468.3 1140.1,1457.8 1137.4,1456.8 1152.8,1452.8 1147.3,1460.7 1144.7,1459.7 1126.6,1470.2" fill="#222" stroke="#000" stroke-width="1"/>
<polygon points="1449.4,1279.3 1467.6,1268.8 1464.9,1267.8 1480.3,1263.8 1474.8,1271.7 1472.2,1270.7 1454.1,1281.2" fill="#222" stroke="#000" stroke-width="1"/>
<polygon points="2101.4,328.8 2119.6,318.3 2116.9,317.3 2132.3,313.2 2126.8,321.2 2124.2,320.2 2106.1,330.7" fill="#222" stroke="#000" stroke-width="1"/>
<polygon points="-16.5,-2.6 5.5,-2.6 5.5,-5.6 16.5,0 5.5,5.6 5.5,2.6 -16.5,2.6" fill="#222" stroke="#000" stroke-width="1" transform="translate(1681,627.5) rotate(0)"/>
<polygon points="-16.5,-2.6 5.5,-2.6 5.5,-5.6 16.5,0 5.5,5.6 5.5,2.6 -16.5,2.6" fill="#222" stroke="#000" stroke-width="1" transform="translate(1831,622.5) rotate(0)"/>
<polygon points="-16.5,-2.6 5.5,-2.6 5.5,-5.6 16.5,0 5.5,5.6 5.5,2.6 -16.5,2.6" fill="#222" stroke="#000" stroke-width="1" transform="translate(2007,441.5) rotate(0)"/>
<polygon points="-16.5,-2.6 5.5,-2.6 5.5,-5.6 16.5,0 5.5,5.6 5.5,2.6 -16.5,2.6" fill="#222" stroke="#000" stroke-width="1" transform="translate(2155,436.5) rotate(0)"/>
<polygon points="-16.5,-2.6 5.5,-2.6 5.5,-5.6 16.5,0 5.5,5.6 5.5,2.6 -16.5,2.6" fill="#222" stroke="#000" stroke-width="1" transform="translate(2453.5,263) rotate(0)"/>
<polygon points="-16.5,-2.6 5.5,-2.6 5.5,-5.6 16.5,0 5.5,5.6 5.5,2.6 -16.5,2.6" fill="#222" stroke="#000" stroke-width="1" transform="translate(683,1673.5) rotate(27.5)"/>
<polygon points="-15.5,-2.6 4.5,-2.6 4.5,-5.6 15.5,0 4.5,5.6 4.5,2.6 -15.5,2.6" fill="#222" stroke="#000" stroke-width="1" transform="translate(1549,783) rotate(-90)"/>
<polygon points="-15.5,-2.6 4.5,-2.6 4.5,-5.6 15.5,0 4.5,5.6 4.5,2.6 -15.5,2.6" fill="#222" stroke="#000" stroke-width="1" transform="translate(1549,1100.5) rotate(-90)"/></svg></body></html>
